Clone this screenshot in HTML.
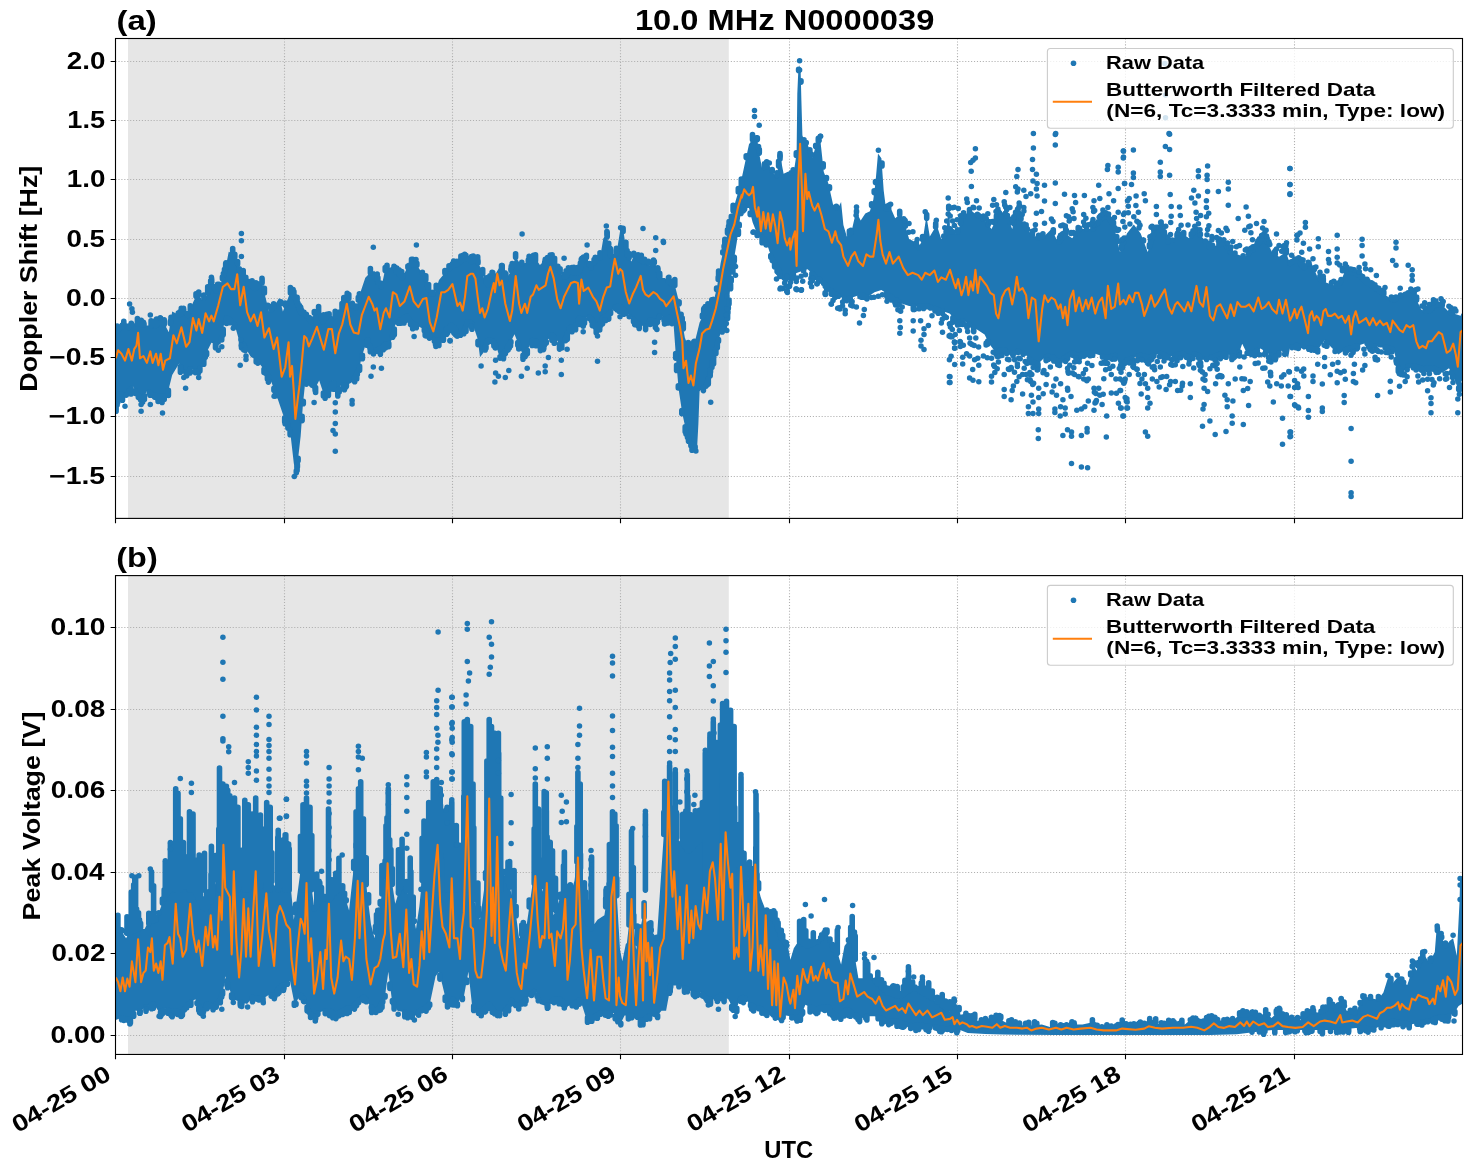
<!DOCTYPE html><html><head><meta charset="utf-8"><style>html,body{margin:0;padding:0;background:#fff;}svg{display:block;will-change:transform;}text{font-family:"Liberation Sans", sans-serif;font-weight:bold;fill:#000;-webkit-font-smoothing:antialiased;}</style></head><body><svg width="1472" height="1172" viewBox="0 0 1472 1172"><rect width="1472" height="1172" fill="#fff"/><defs><clipPath id="clipa"><rect x="115.5" y="38.5" width="1347.0" height="479.9"/></clipPath></defs><rect x="128" y="38.5" width="600.8" height="479.9" fill="#e6e6e6"/><path d="M284.5 38.5V518.4M452.5 38.5V518.4M620.5 38.5V518.4M789.5 38.5V518.4M957.5 38.5V518.4M1125.5 38.5V518.4M1294.5 38.5V518.4M115.5 61.5H1462.5M115.5 120.5H1462.5M115.5 179.5H1462.5M115.5 239.5H1462.5M115.5 298.5H1462.5M115.5 357.5H1462.5M115.5 416.5H1462.5M115.5 476.5H1462.5" stroke="#b0b0b0" stroke-width="1.1" stroke-dasharray="1.1 1.83" fill="none"/><g clip-path="url(#clipa)"><polygon points="115.8,332.3 123.8,325.4 128.4,327.7 133.0,323.1 140.0,324.3 146.9,325.4 156.1,325.4 160.7,322.0 165.3,325.4 168.8,332.3 172.2,311.6 179.1,315.0 183.8,311.6 188.4,316.2 193.0,302.4 197.6,293.1 202.2,300.1 206.8,295.4 211.4,281.6 216.0,290.8 220.6,283.9 225.2,270.1 228.7,251.7 233.3,254.0 236.8,260.9 239.1,270.1 243.7,274.7 248.3,283.9 255.2,288.5 262.1,282.8 264.4,293.1 269.0,311.6 273.6,307.0 279.4,297.8 282.9,311.6 290.0,293.1 291.5,292.7 296.1,300.8 300.7,312.3 305.4,314.6 311.1,321.5 314.6,312.3 319.2,312.3 322.6,321.5 328.4,314.6 334.2,316.9 339.9,314.6 344.5,300.8 348.0,296.2 351.4,305.4 356.1,307.7 360.7,291.6 365.3,277.8 369.9,273.1 374.5,270.8 378.0,282.4 381.4,287.0 384.9,270.8 388.3,268.5 392.9,266.2 397.5,273.1 402.2,277.8 406.8,268.5 411.4,265.1 416.0,263.9 420.6,270.8 425.2,277.8 429.8,293.9 434.4,293.9 439.0,280.1 444.8,273.1 451.7,266.2 457.5,263.9 460.0,261.6 460.4,261.6 465.0,258.2 470.7,261.6 476.5,260.5 481.1,268.5 484.6,280.1 488.0,284.7 491.5,275.4 496.1,273.1 500.7,265.1 505.3,280.1 509.9,273.1 515.7,257.0 520.3,263.9 526.1,262.8 531.8,259.3 537.6,261.6 542.2,268.5 546.8,263.9 551.4,259.3 556.0,263.9 560.6,273.1 565.2,277.8 569.8,270.8 574.5,273.1 579.1,273.1 582.5,260.5 587.1,257.0 590.6,268.5 596.4,259.3 599.8,259.3 603.3,238.6 606.7,234.0 611.3,259.3 615.9,257.0 620.0,231.5 623.5,231.5 626.9,254.5 631.5,261.4 635.0,252.2 638.4,259.1 643.0,261.4 646.5,259.1 650.0,266.0 654.6,262.6 658.0,270.6 660.0,278.1 665.0,278.1 669.9,283.0 674.9,285.5 678.6,300.3 682.3,322.6 684.8,337.5 688.5,347.4 692.2,349.8 695.9,337.5 699.6,322.6 704.6,312.7 709.5,307.8 713.2,302.8 716.9,288.0 720.6,263.2 724.4,245.9 728.1,231.0 731.8,216.2 735.5,201.3 739.2,189.0 741.7,184.0 741.8,177.8 745.4,161.1 749.0,144.3 752.6,139.6 757.3,139.6 759.7,156.3 762.1,168.2 769.3,165.8 776.5,177.8 780.0,154.7 783.6,173.8 788.4,171.4 793.8,172.1 796.6,153.6 797.3,93.7 798.2,73.0 799.6,64.9 800.7,73.0 801.4,100.6 802.4,135.2 804.2,141.0 807.7,144.4 812.3,158.2 816.9,142.1 820.3,139.8 823.8,172.1 828.4,183.6 833.0,204.3 837.6,208.9 841.1,202.0 843.4,225.1 846.8,236.6 851.4,232.0 856.1,211.2 860.7,220.5 865.3,213.6 869.9,211.2 873.3,199.7 875.6,181.3 878.0,153.6 881.4,158.2 883.7,190.5 886.0,208.9 890.6,207.8 895.2,218.2 901.0,213.6 904.5,222.8 909.1,238.9 913.7,241.2 918.3,248.1 922.9,238.9 926.4,215.9 929.8,236.6 936.7,225.1 941.3,238.9 945.9,234.3 949.4,202.0 950.0,231.3 956.9,233.6 963.8,215.2 970.7,210.6 977.7,215.2 984.6,219.8 991.5,229.0 998.4,215.2 1005.3,210.6 1012.2,229.0 1016.8,210.6 1023.8,224.4 1030.7,233.6 1037.6,238.2 1044.5,235.9 1051.4,229.0 1058.3,242.8 1065.2,233.6 1072.2,238.2 1079.1,229.0 1086.0,229.0 1092.9,229.0 1099.8,219.8 1106.7,215.2 1113.6,224.4 1120.0,252.1 1126.9,233.6 1133.8,224.4 1140.7,233.6 1147.7,252.1 1154.6,231.3 1161.5,229.0 1168.4,242.8 1175.3,238.2 1182.2,233.6 1189.1,238.2 1196.1,229.0 1203.0,238.2 1209.9,247.5 1216.8,245.2 1223.7,242.8 1230.6,252.1 1237.5,254.4 1244.5,256.7 1251.4,252.1 1258.3,242.8 1265.2,238.2 1272.1,252.1 1279.0,256.7 1285.9,252.1 1290.0,263.6 1296.9,259.0 1303.8,268.2 1310.7,261.3 1317.7,277.5 1324.6,282.1 1331.5,284.4 1338.4,286.7 1345.3,270.5 1352.2,272.8 1359.1,275.2 1366.1,282.1 1373.0,286.7 1379.9,291.3 1386.8,295.9 1393.7,300.5 1400.6,295.9 1407.5,293.6 1414.5,295.9 1421.4,309.7 1428.3,312.0 1435.2,305.1 1442.1,305.1 1449.0,312.0 1455.9,314.3 1463.3,316.6 1463.3,377.5 1458.2,389.0 1453.6,377.5 1449.0,368.3 1442.1,372.9 1435.2,368.3 1428.3,368.3 1421.4,368.3 1414.5,366.0 1407.5,366.0 1402.9,372.9 1398.3,368.3 1393.7,349.8 1386.8,347.5 1379.9,347.5 1373.0,345.2 1366.1,342.9 1359.1,345.2 1352.2,347.5 1345.3,349.8 1338.4,354.4 1331.5,347.5 1324.6,340.6 1317.7,349.8 1310.7,347.5 1303.8,349.8 1296.9,345.2 1290.0,347.5 1288.2,357.6 1281.3,350.7 1274.4,357.6 1267.5,353.0 1260.6,348.4 1253.7,353.0 1246.8,353.0 1242.2,343.8 1237.5,357.6 1230.6,355.3 1223.7,353.0 1216.8,355.3 1209.9,357.6 1203.0,359.9 1196.1,353.0 1189.1,357.6 1182.2,353.0 1175.3,355.3 1168.4,357.6 1161.5,353.0 1154.6,355.3 1147.7,357.6 1140.7,355.3 1133.8,357.6 1126.9,359.9 1120.0,366.8 1115.9,355.3 1106.7,357.6 1099.8,355.3 1092.9,353.0 1086.0,353.0 1079.1,355.3 1072.2,353.0 1065.2,357.6 1058.3,362.2 1051.4,355.3 1044.5,357.6 1037.6,364.5 1030.7,359.9 1023.8,353.0 1016.8,350.7 1009.9,355.3 1003.0,348.4 996.1,353.0 989.2,343.8 984.6,334.6 977.7,330.0 970.7,325.4 963.8,320.8 956.9,323.1 950.0,313.8 948.2,313.1 941.3,310.8 934.4,308.4 927.5,306.1 918.3,306.1 909.1,306.1 902.2,303.8 895.2,299.2 888.3,294.6 881.4,290.0 874.5,292.3 867.6,296.9 860.7,294.6 853.8,296.9 846.8,299.2 839.9,296.9 833.0,292.3 826.1,285.4 821.5,280.8 814.6,276.2 807.7,269.3 800.7,271.6 793.8,273.9 786.0,283.7 781.2,278.9 776.5,265.4 771.7,258.2 766.9,243.8 762.1,236.7 757.3,234.3 752.6,222.3 749.0,208.0 745.4,208.0 741.8,206.1 741.7,205.7 736.7,242.8 731.8,272.5 726.8,322.0 721.9,329.5 716.9,344.3 712.0,364.1 707.0,383.9 699.6,391.3 698.4,423.5 697.1,448.3 690.9,443.3 687.2,435.9 682.3,413.6 678.6,388.9 676.1,359.2 673.6,324.5 669.9,317.1 665.0,319.6 660.0,314.6 656.9,322.1 650.0,319.8 645.4,326.7 638.4,324.4 633.8,319.8 629.2,315.1 624.6,310.5 620.0,305.9 615.9,306.6 611.3,311.2 606.7,315.8 602.1,318.2 597.5,329.7 592.9,320.5 588.3,315.8 583.7,320.5 579.1,318.2 574.5,327.4 569.8,327.4 565.2,338.9 560.6,345.8 556.0,338.9 551.4,334.3 546.8,341.2 542.2,345.8 538.7,343.5 533.0,338.9 528.4,348.1 523.8,357.3 519.1,345.8 514.5,334.3 509.9,343.5 504.2,352.7 499.6,357.3 496.1,345.8 491.5,338.9 486.9,341.2 483.4,352.7 480.0,357.3 477.7,338.9 473.0,325.1 468.4,320.5 463.8,330.8 460.0,334.3 457.5,332.0 451.7,325.1 445.9,329.7 441.3,338.9 436.7,341.2 429.8,336.6 425.2,329.7 420.6,327.4 416.0,325.1 411.4,322.8 406.8,315.8 399.8,320.5 395.2,325.1 390.6,343.5 386.0,343.5 381.4,348.1 376.8,350.4 372.2,352.7 367.6,338.9 363.0,352.7 359.5,366.6 356.1,375.8 351.4,382.7 346.8,385.0 341.1,385.0 336.5,394.2 333.0,380.4 328.4,391.9 323.8,394.2 319.2,380.4 314.6,389.6 310.0,387.3 305.4,380.4 303.0,403.4 300.7,435.7 297.3,465.7 295.7,473.7 293.8,463.3 290.4,433.4 290.0,428.0 282.9,414.2 275.9,393.5 271.3,381.9 266.7,372.7 257.5,361.2 250.6,356.6 243.7,345.1 239.1,340.5 234.5,324.3 229.8,319.7 225.2,317.4 220.6,343.9 218.3,345.1 211.4,342.8 206.8,352.0 202.2,363.5 197.6,372.7 190.7,368.1 183.8,375.0 179.1,363.5 172.2,375.0 167.6,393.5 163.0,396.9 156.1,395.8 151.5,393.5 146.9,391.2 142.3,400.4 137.7,394.6 133.0,386.6 123.8,395.8 119.2,393.5 115.8,407.3" fill="#1f77b4"/><path d="M160.2 322.3V318.0M120.5 394.1V397.5M179.9 314.5V311.7M502.1 354.8V356.6M616.7 252.2V250.3M690.9 443.3V445.7M571.8 271.8V269.1M327.7 392.3V393.6M521.8 263.6V262.4M426.6 331.7V334.2M309.3 319.3V317.5M438.9 340.1V345.4M643.1 261.4V259.4M510.5 342.3V346.0M595.3 261.0V257.3M157.0 395.9V397.4M639.4 259.6V257.7M493.0 341.2V342.4M501.5 267.6V265.6M142.9 399.2V400.4M273.7 306.9V303.8M615.3 307.3V308.5M452.4 266.0V263.8M518.8 344.9V349.0M171.0 319.1V317.2M692.8 444.9V448.8M226.0 266.1V262.9M356.8 373.7V375.2M385.2 270.6V267.5M551.9 334.8V340.2M297.1 303.3V297.2M359.6 366.4V370.2M377.9 282.3V279.5M572.0 327.4V331.8M160.4 322.2V321.0M345.9 385.0V387.1M411.5 265.0V259.2M315.1 388.5V390.2M401.7 277.3V275.1M388.8 343.5V346.6M190.3 310.4V305.9M536.0 341.3V345.8M407.9 267.6V266.1M608.7 313.8V319.1M708.1 309.1V304.9M198.4 371.0V373.0M574.1 273.0V271.7M303.3 401.4V403.8M644.6 260.4V259.2M297.1 466.7V470.4M118.1 330.3V328.2M604.4 317.0V319.8M608.7 245.0V243.2M589.4 317.0V318.5M533.5 260.0V255.3M156.6 395.9V397.8M335.2 316.5V311.2M160.9 396.6V399.1M776.9 175.6V174.3M750.2 213.1V214.4M476.3 260.5V257.8M569.5 328.3V330.3M428.6 289.7V284.5M223.2 329.4V334.8M178.3 314.6V313.1M264.0 369.3V372.5M321.3 318.0V315.2M154.6 395.0V397.1M118.4 330.1V328.7M552.8 335.7V338.9M422.4 273.5V272.3M619.4 306.0V307.4M579.8 270.4V267.9M695.1 446.7V448.0M348.6 297.9V296.7M738.4 230.7V234.3M340.3 313.6V312.1M707.5 382.0V384.2M198.7 294.8V292.0M356.7 374.1V379.0M155.1 325.4V320.9M706.1 384.8V386.1M567.0 275.2V270.9M619.0 306.1V311.3M425.8 279.7V275.9M505.4 350.8V353.4M203.9 298.3V295.1M465.3 327.4V329.6M600.0 258.0V252.7M453.6 327.3V329.6M453.7 265.4V261.1M315.6 387.5V392.5M554.4 262.3V258.2M510.9 341.5V342.8M545.1 265.6V260.4M559.5 344.1V349.1M211.7 282.2V279.4M592.3 319.8V325.6M170.4 322.7V321.1M273.9 388.4V390.2M545.9 264.8V262.3M729.0 300.1V304.0M577.6 273.1V267.6M687.5 436.4V437.6M396.7 271.9V268.0M596.2 327.2V332.7M251.2 285.9V282.9M713.3 359.0V360.6M143.4 324.8V322.3M231.1 321.0V322.2M377.0 279.3V275.6M543.5 344.5V349.6M302.3 313.1V311.2M715.7 349.2V350.4M511.0 270.0V268.5M619.5 306.0V307.4M671.2 283.6V281.7M734.3 257.4V261.1M627.2 255.0V253.3M561.8 344.1V348.0M381.2 286.6V283.4M471.9 323.9V329.0M778.6 166.1V161.2M446.4 329.3V330.6M535.5 260.8V254.8M257.8 361.6V363.1M241.4 272.5V271.1M455.6 329.8V331.4M704.1 313.7V308.3M694.3 446.0V449.2M413.2 264.6V260.7M384.8 344.7V348.0M156.5 325.1V321.9M487.7 340.8V342.5M234.8 257.0V254.3M713.6 357.6V363.7M586.4 257.5V255.4M333.8 383.6V389.3M292.3 294.2V290.6M595.1 324.9V326.9M731.3 218.2V216.4M774.6 262.6V266.8M465.9 258.7V255.3M708.3 378.8V383.9M143.6 324.9V322.8M121.0 394.4V396.9M584.2 259.2V256.8M489.3 340.0V341.5M251.6 286.1V284.0M284.7 417.7V421.9M633.8 255.3V253.2M672.0 321.4V323.6M668.5 281.6V277.5M447.7 328.3V332.8M639.6 259.7V258.0M712.4 362.3V364.5M156.5 325.1V319.0M774.8 262.9V266.8M144.0 324.9V323.7M634.7 320.6V324.6M674.8 285.5V279.6M532.1 340.6V345.4M358.3 299.9V297.4M525.2 354.4V356.4M550.2 260.5V255.1M412.7 323.4V328.8M622.8 231.5V229.6M160.2 396.4V398.5M511.2 269.6V266.2M222.8 331.2V335.3M326.8 316.6V314.2M190.0 368.8V372.9M280.8 303.4V301.7M710.5 369.9V372.0M652.0 264.5V263.2M450.2 326.3V330.1M583.5 259.7V257.0M229.7 319.6V322.8M702.4 317.0V315.0M385.4 344.1V348.0M348.8 298.4V294.5M392.6 335.6V337.2M432.9 293.9V292.6M168.2 391.1V393.7M342.0 308.4V303.6M150.5 393.0V395.2M515.6 257.2V253.8M527.3 350.3V353.7M756.4 139.6V137.8M451.5 325.2V326.5M623.1 231.5V228.2M757.2 234.0V235.4M472.8 261.2V259.3M394.3 329.0V334.7M267.8 306.7V305.3M383.4 346.1V348.0M627.1 254.8V250.5M290.1 429.7V434.8M271.2 309.4V308.1M228.3 319.0V322.4M629.1 257.8V253.5M221.7 337.6V340.0M659.7 277.1V273.3M625.4 311.4V312.9M648.4 263.0V261.4M135.4 390.7V393.5M544.7 266.0V262.3M438.3 340.4V342.0M492.1 275.1V272.3M115.6 407.3V409.2M370.4 272.9V268.6M762.1 236.7V242.7M492.7 274.9V272.6M685.2 426.9V431.7M753.5 139.6V137.7M778.5 269.4V272.9M543.7 267.0V265.2M728.3 307.0V308.5M573.9 272.9V267.2M648.8 321.5V323.2M766.7 166.7V161.7M777.1 266.6V271.4M746.2 157.4V155.7M256.2 360.3V362.1M431.3 293.9V292.3M715.9 348.6V353.6M342.3 307.4V305.6M205.3 355.6V357.3M296.6 302.0V299.9M582.9 320.1V321.4M486.5 282.6V277.8M275.5 392.3V396.0M290.4 293.0V287.6M447.9 328.1V330.4M728.6 229.1V226.0M369.7 345.4V347.0M187.7 315.5V313.5M131.0 388.6V393.9M711.8 304.7V299.7M435.7 340.5V342.8M306.3 315.8V314.3M306.4 382.0V384.1M449.7 268.2V266.6M463.8 330.8V333.8M208.5 290.4V287.0M717.3 343.2V347.7M475.2 260.7V258.9M591.3 318.9V320.7M679.1 303.7V301.8M243.8 345.3V350.0M255.1 288.5V286.5M578.4 319.5V321.9M377.2 279.7V274.1M692.0 444.2V450.3M486.5 282.6V280.3M507.2 347.8V350.3M757.3 139.6V137.7M664.6 319.3V324.0M300.5 311.8V307.1M575.6 325.1V329.8M458.5 263.0V261.6M435.9 340.7V346.5M718.2 279.5V277.4M546.3 341.7V342.9M594.1 262.9V259.5M373.5 352.1V354.0M170.3 323.4V321.6M400.0 320.3V322.9M217.6 288.4V284.3M121.8 394.7V396.3M303.9 313.9V312.3M655.4 321.6V327.4M427.7 286.6V284.5M675.7 353.6V358.1M547.5 263.3V257.6M164.2 396.0V399.5M293.1 295.6V289.6M158.1 396.1V401.5M724.1 247.2V246.0M703.4 387.6V390.6M713.3 302.4V299.6M766.3 242.9V245.0M243.2 274.2V270.5M763.7 239.0V240.9M571.6 271.7V269.8M362.4 355.2V358.8M626.9 254.5V251.6M733.8 260.7V264.5M138.5 324.0V320.4M138.3 395.4V397.2M470.7 261.6V259.1M571.2 327.4V329.9M653.5 263.4V260.1M509.3 344.5V348.1M449.0 268.9V265.7M119.1 394.1V395.6M322.8 321.4V319.7M242.8 344.2V348.2M409.2 266.7V265.2M550.6 335.5V337.1M314.3 313.1V311.5M565.7 337.6V340.6M123.8 325.4V321.2M234.3 324.2V326.0M183.5 311.8V308.3M485.1 347.1V348.9M776.9 175.4V172.9M203.8 359.6V364.3M455.8 264.6V261.8M517.8 342.5V345.3M402.8 276.4V275.1M645.6 326.3V329.6M589.5 264.9V263.6M429.4 335.9V338.1M464.7 258.4V254.3M285.4 419.2V423.5M577.6 273.1V271.8M686.0 430.2V433.9M293.9 296.9V291.5M144.4 396.1V399.5M682.2 322.3V318.0M722.2 329.0V331.9M722.8 252.9V251.7M664.1 318.7V320.4M545.3 265.4V259.2M446.7 329.1V334.2M568.4 273.0V267.9M117.7 399.7V402.6M547.5 263.2V258.9M739.2 224.4V226.0M463.5 259.3V255.6M380.4 348.6V354.2M450.3 267.7V266.4M541.5 345.4V349.8M579.9 269.9V267.0M426.0 330.8V336.0M582.0 262.4V258.2M659.4 316.1V317.4M580.4 268.3V263.1M602.6 317.9V323.7M377.9 282.2V277.7M623.8 309.7V314.2M456.9 264.2V261.3M727.9 311.2V312.9M326.1 317.4V315.9M676.6 365.4V370.4M352.3 305.8V303.3M639.2 324.6V328.4M401.7 277.3V271.5M467.7 322.0V323.4M359.4 295.9V293.7M215.5 344.1V347.8M482.7 273.8V269.6M718.5 339.6V341.3M299.5 309.3V305.6M605.7 316.4V320.4M151.1 325.4V320.7M276.3 394.5V395.8M758.5 147.9V146.5M744.6 207.6V209.3M252.1 286.5V280.9M599.7 324.1V330.0M141.2 324.5V320.4M403.8 317.8V319.8M398.9 274.5V269.7M425.2 329.7V335.4M738.3 192.0V188.5M195.3 371.2V372.6M473.3 261.1V256.1M779.9 272.3V276.5M115.6 332.3V326.8M508.6 345.6V347.0M581.3 265.0V259.3M297.0 466.9V470.2M533.0 259.8V256.2M339.2 388.7V392.0M727.5 233.1V229.9M227.1 318.3V321.7M610.3 253.9V252.6M688.5 438.4V441.2M257.7 286.5V284.8M168.4 390.4V395.5M659.8 277.3V274.8M770.8 255.6V257.3M117.2 331.1V326.1M620.8 306.7V308.3M327.4 315.9V314.5M485.2 346.8V349.9M535.4 260.7V255.7M678.3 385.8V388.0M394.0 267.9V266.4M503.3 353.6V356.0M577.7 273.1V271.1M354.7 377.9V381.7M214.8 288.5V286.7M486.0 344.3V348.2M196.0 296.3V293.8M416.3 325.2V327.7M160.5 322.1V318.0M579.3 318.3V320.1M471.5 261.5V256.5M608.0 314.5V315.7M326.4 317.0V315.3M692.7 444.7V448.8M613.6 258.2V257.0M610.6 312.0V313.5M237.6 264.3V261.5M519.2 346.0V347.8M688.3 346.8V342.5M757.1 233.8V235.3M428.3 288.8V286.5M378.7 349.5V350.8M716.6 289.4V288.0M149.3 392.4V393.6M641.3 260.6V255.3M330.1 387.7V389.3M301.5 312.7V310.1M523.0 355.3V357.2M607.2 236.7V232.4M732.9 266.1V271.9M610.4 254.4V248.7M633.5 319.4V321.8M131.3 324.9V323.2M743.3 206.9V210.8M659.0 274.4V273.1M637.6 323.5V325.4M311.1 321.5V318.9M669.4 317.3V321.5M772.2 170.7V169.5M405.5 316.7V320.3M412.8 264.7V262.3M711.9 364.5V367.5M216.2 290.6V288.2M378.7 349.4V351.4M181.3 313.4V308.4M579.8 318.5V324.5M573.5 272.6V269.7M727.6 314.8V318.4M703.7 314.3V309.0M437.0 341.1V342.7M343.8 302.9V297.5M393.1 333.7V336.2M262.0 282.9V278.3M116.1 406.0V411.2M222.4 278.7V277.0M298.1 458.2V460.8M502.2 270.1V265.6M435.5 340.4V344.4M141.5 324.5V320.9M503.4 353.4V354.7M759.3 153.1V149.6M434.4 339.6V341.3M460.9 261.2V256.1M578.5 319.3V320.6M323.7 320.3V314.7M186.7 372.0V375.7M692.5 348.7V344.7M536.4 341.7V342.9M304.0 314.0V312.2M287.9 424.0V427.9M329.1 314.9V313.7M150.1 392.8V395.3M402.1 277.7V274.4M325.1 393.6V398.3M733.1 210.8V205.4M741.0 211.1V213.4M412.8 264.7V259.4M226.6 318.1V323.5M657.7 269.8V267.7M117.1 401.9V405.0M245.8 278.9V277.3M369.9 345.8V348.3M610.0 252.3V248.2M650.2 319.8V324.5M381.2 286.7V284.5M367.9 339.8V342.9M436.2 288.7V285.3M724.3 325.8V328.1M488.1 284.4V282.7M493.9 342.5V345.9M564.6 277.1V274.4M206.6 352.5V354.8M297.8 305.1V303.5M730.6 284.6V288.7M741.3 184.8V179.0M296.3 470.7V472.7M444.9 273.0V270.5M394.0 330.0V331.3M729.1 226.8V221.6M502.8 354.1V356.4M512.2 266.8V263.6M366.9 341.0V345.3M285.3 305.3V303.0M666.0 319.0V323.3M248.1 283.6V281.4M460.5 333.8V335.3M606.9 235.1V231.5M357.3 372.3V374.5M239.3 270.3V268.7M495.4 344.8V348.0M674.3 285.2V280.4M600.5 322.3V325.7M271.7 308.9V306.2M710.2 371.2V375.8M610.6 255.4V250.0M671.5 320.4V322.2M718.6 277.0V271.0M508.0 346.6V350.0M668.9 282.0V277.2M712.9 360.6V363.4M693.8 344.4V341.7M410.6 321.6V324.6M512.2 266.7V265.5M267.4 374.0V379.1M137.4 323.8V318.5M731.2 278.5V281.3M705.3 312.0V306.5M370.3 347.1V351.7M252.8 287.0V284.5M230.3 320.2V322.2M764.4 167.5V163.7M331.7 383.7V385.1M683.3 328.8V323.1M772.3 259.1V260.4M641.8 260.8V258.7M245.2 347.7V350.6M318.6 312.3V306.6M215.9 344.2V346.5M225.7 267.7V263.5M442.9 335.8V338.7M713.1 303.0V299.5M455.3 329.4V334.6M505.9 279.1V273.7M543.8 344.2V348.5M466.5 259.1V257.7M503.5 353.3V358.7M616.4 254.3V248.4M285.1 418.5V423.7M225.6 267.9V266.7M140.5 398.1V399.8M264.4 293.0V288.3M453.8 327.5V332.8M355.8 307.6V306.1M306.4 382.0V383.6M625.9 248.0V242.3M478.0 341.3V344.6M489.9 279.8V275.7M668.1 318.0V322.9M411.5 265.0V262.1M424.3 329.2V330.8M164.2 324.6V319.7M408.5 318.4V320.0M141.9 324.6V323.4M401.0 319.7V323.1M724.8 243.9V239.4M383.3 346.3V349.7M128.5 327.6V326.1M407.0 316.2V319.6M566.1 276.5V270.9M354.3 378.3V380.8M208.7 289.9V287.9M241.5 342.8V347.8M529.1 260.9V256.2M158.1 396.1V399.0M549.4 261.3V259.6M470.2 322.2V323.4M545.3 265.4V261.9M543.7 344.3V345.5M478.0 263.0V260.7M268.4 376.0V382.1M463.1 259.5V255.4M443.4 334.8V340.2M224.5 272.2V269.3M581.4 319.3V320.9M210.7 283.6V280.7M472.0 324.0V329.3M542.4 268.3V266.5M333.6 382.7V387.7M223.4 275.5V273.5M328.4 391.9V395.4M591.1 267.7V266.2M404.0 317.7V322.9M552.1 260.0V254.8M681.8 410.5V413.6M298.0 305.4V303.3M466.0 326.0V331.5M300.8 312.3V307.7M286.5 421.3V423.0M151.1 325.4V323.0M653.0 320.7V323.3M528.3 261.4V260.1M323.4 393.0V396.1M124.0 325.5V323.6M657.4 320.9V322.2M638.1 258.5V254.7M268.1 375.4V377.0M560.1 272.0V268.7M344.4 385.0V389.8M477.7 262.5V256.8M343.7 385.0V387.7M668.6 281.7V279.7M623.2 309.2V313.8M551.6 259.5V256.0M693.1 445.1V446.6M752.5 139.7V134.5M346.4 385.0V386.2M780.0 159.0V153.6M540.4 344.6V350.6M218.9 286.5V284.4M377.7 350.0V351.5M232.7 253.7V248.5M455.0 329.1V331.6M387.0 269.4V265.3M582.1 319.7V322.1M183.7 311.6V309.5M315.1 388.4V390.0M504.9 278.7V272.9M500.0 356.9V358.1M207.7 292.7V286.9M765.0 241.0V243.3M416.9 265.3V263.4M567.3 333.6V339.2M504.5 277.5V273.3M122.5 395.1V400.3M482.1 272.0V270.7M337.8 391.5V395.9M251.7 286.2V281.4M523.0 355.4V359.2M707.9 309.4V303.9M325.0 393.6V395.1M577.5 273.1V268.7M297.4 464.4V467.0M681.1 315.7V314.2M180.4 366.6V372.3M122.3 326.8V325.1M128.9 390.7V393.4M577.4 273.1V271.4M199.9 368.1V371.0M257.1 286.9V283.6M399.8 320.5V322.3M658.0 270.6V268.7M486.8 341.6V342.8M694.3 342.8V341.2M554.2 337.1V343.2M262.1 282.8V278.7M162.1 396.8V402.4M554.6 262.5V258.3M142.7 399.5V401.9M510.9 270.3V268.5M616.9 306.5V309.8M255.9 288.0V282.7M544.3 343.7V345.6M347.2 297.3V293.4M540.6 344.7V347.4M557.9 267.7V266.4M267.3 374.0V375.3M571.8 271.8V267.6M584.5 319.6V323.3M338.6 315.2V312.2M398.5 321.8V323.3M654.3 262.8V261.3M302.1 416.2V420.6M689.4 348.0V346.6M625.7 311.6V313.4M1411.4 294.9V294.6M1463.7 377.5V378.2M963.6 215.7V212.8M1018.1 351.1V351.6M996.4 219.3V215.9M1165.6 355.7V357.1M1172.2 240.3V240.0M1174.7 355.5V357.8M791.7 173.0V172.5M1421.0 368.1V369.6M969.5 211.4V209.5M1058.1 362.1V362.3M1438.8 305.1V304.2M1106.3 357.5V358.5M1340.1 282.6V281.7M1018.0 351.1V352.4M1452.3 313.1V309.9M826.7 286.0V289.3M1196.5 229.6V229.2M1013.1 353.2V355.4M1425.9 311.2V308.6M1023.1 352.8V354.2M1314.3 269.6V267.8M1154.0 355.5V355.8M905.0 224.7V224.3M942.3 311.1V313.3M1162.8 231.7V230.3M1168.0 357.4V357.8M903.7 220.8V218.9M1451.2 372.5V373.0M1152.0 239.0V238.5M831.2 290.5V294.1M1319.9 279.0V276.2M1234.5 356.6V356.9M1032.4 234.8V231.2M1115.1 355.5V357.8M1442.3 305.3V303.0M913.3 306.1V309.4M1292.6 261.9V261.3M818.4 278.7V279.6M1079.7 229.0V228.4M1048.6 356.3V357.6M935.7 226.7V223.6M1226.1 353.8V357.3M1211.0 247.1V246.6M835.9 294.2V295.0M1164.3 234.7V231.7M1345.5 349.7V353.0M1308.2 263.9V262.4M1034.0 362.2V362.6M796.3 155.5V152.9M1206.6 358.7V359.4M871.8 204.9V204.7M1102.5 356.2V356.9M1372.0 286.0V285.7M1121.6 365.3V366.6M1243.1 256.2V255.7M1190.6 356.7V357.3M1061.8 238.2V237.6M1349.9 348.3V349.8M801.0 82.1V80.8M1367.1 343.2V343.6M1362.6 278.6V276.5M1298.3 346.1V348.5M811.3 155.2V154.1M1357.5 345.7V348.0M1304.2 267.8V265.9M1048.8 356.2V359.1M882.0 165.9V163.0M1354.4 346.8V348.2M1193.0 233.1V230.8M803.6 270.6V271.0M1336.5 286.0V285.3M1067.4 356.2V358.8M1255.7 246.2V246.0M1060.1 361.1V361.6M1094.0 227.5V226.5M1038.0 364.1V366.7M1113.5 224.2V222.3M930.4 307.1V307.9M1107.6 216.4V214.5M1079.9 355.0V357.6M1037.9 238.1V237.5M996.1 353.0V354.3M1367.8 283.2V280.8M938.2 309.7V313.2M1394.5 300.0V298.0M1140.9 355.4V358.4M1248.5 253.9V252.1M819.6 279.5V281.1M1364.3 280.3V279.1M1430.2 368.3V369.3M1078.2 230.2V227.5M1085.5 353.2V353.7M1212.2 246.7V246.4M862.8 295.3V297.2M1153.6 234.3V234.0M1070.4 354.2V354.4M1371.4 285.6V282.7M845.9 298.9V299.8M957.6 231.7V229.7M1138.5 356.1V357.7M1376.0 288.7V287.0M1179.2 354.0V356.4M948.7 208.8V206.4M1421.4 368.3V370.1M1410.3 294.5V293.7M1004.9 350.3V352.1M829.5 188.4V186.9M860.0 294.9V296.6M1434.2 306.1V305.9M1019.3 351.5V351.7M1024.2 225.0V224.1M793.4 274.2V274.6M1212.5 246.6V245.2M1257.3 350.6V351.6M1274.7 253.8V251.8M1315.3 349.0V349.8M1123.6 242.5V242.3M1006.7 352.1V353.6M1352.6 273.0V269.6M1292.0 346.8V347.6M1063.6 235.8V233.3M1398.3 368.1V371.5M1042.8 236.5V235.6M1296.6 345.3V346.8M1361.1 277.1V275.9M892.1 297.1V298.2M1163.0 232.1V229.8M1046.1 357.1V360.6M888.7 208.3V207.2M927.3 306.1V306.6M1374.9 288.0V284.7M1438.4 370.4V372.1M819.1 140.6V140.4M953.3 318.2V321.7M1015.6 215.6V212.2M1048.2 356.4V356.6M1323.3 281.2V278.8M1186.3 355.7V357.3M1266.3 240.4V239.9M1023.5 352.9V354.0M874.2 192.6V190.7M1165.2 355.5V355.9M1379.6 291.1V290.8M1046.0 357.1V357.6M1308.9 263.1V262.6M835.2 293.7V296.5M1038.7 237.9V235.4M1275.3 356.7V359.7M1026.1 227.5V224.8M1144.0 356.4V359.2M978.5 215.8V215.4M1224.2 353.2V356.5M999.4 214.5V212.8M1184.1 354.3V354.6M1210.3 247.3V244.7M999.8 350.5V350.7M1021.0 218.9V217.8M1199.5 356.4V356.9M823.2 166.9V163.8M1166.4 356.3V357.5M1320.5 279.4V279.1M1255.1 352.1V355.0M1058.9 242.0V241.0M1417.3 366.9V367.3M1222.6 243.2V241.8M1130.3 358.8V360.8M1183.7 234.6V232.5M960.0 322.0V324.5M1092.9 229.0V228.4M899.1 301.8V304.3M1416.6 300.1V297.1M1326.6 342.6V346.1M1451.4 312.8V311.2M1284.7 354.0V354.3M811.1 154.6V154.3M1215.3 355.8V359.3M1112.4 222.8V219.6M923.6 306.1V308.4M1224.3 243.6V243.2M1000.6 350.0V352.3M1149.4 247.0V244.7M1132.0 358.2V361.1M1191.3 235.4V233.7M1356.7 346.0V349.0M1230.2 251.4V247.8M1223.8 353.1V356.1M1150.6 243.1V240.4M1033.6 361.9V363.0M1253.0 249.9V246.7M1368.6 343.7V346.8M1229.9 251.1V247.8M1464.8 377.5V377.9M982.9 218.7V217.9M1112.1 356.3V359.1M1391.4 299.0V297.0M832.9 292.2V293.3M1259.6 242.0V238.9M888.3 294.6V297.6M1336.1 285.9V283.2M1231.9 355.7V359.4M1290.2 263.5V262.3M1458.7 387.9V389.4M1450.9 312.7V311.0M1317.7 349.8V352.0M806.2 142.9V142.6M1392.7 349.5V349.7M1086.6 229.0V227.4M1374.7 345.8V346.3M1017.6 212.2V209.2M1084.0 353.7V356.1M886.2 208.9V206.6M1122.5 364.3V367.8M1079.1 229.0V228.0M999.7 350.6V351.1M1218.9 244.4V244.0M1005.3 350.7V352.2M1370.7 285.2V284.6M896.2 299.9V303.2M1275.3 254.2V253.2M844.6 298.5V299.3M918.7 247.4V247.1M1012.7 353.4V354.5M1286.3 253.0V249.5M969.2 324.3V324.9M935.6 227.0V226.5M1279.0 353.0V354.7M905.4 225.9V224.8M1056.5 360.4V361.8M1302.2 266.1V263.2M1346.9 349.3V350.7M1298.7 261.3V257.7M1434.4 368.3V369.8M1366.5 282.4V282.0M1124.6 362.3V363.6M1102.6 218.0V216.2M1426.3 368.3V369.1M1065.7 234.0V231.1M1140.9 355.4V357.0M1405.2 294.4V294.2M1090.1 353.0V355.7M1143.5 241.0V240.1M861.8 295.0V297.2M1205.3 241.3V241.0M790.7 276.6V278.1M1167.8 241.7V239.2M1198.8 355.8V356.0M1266.9 241.7V240.8M1271.1 355.4V357.5M1337.2 286.3V285.6M1086.3 353.0V354.2M1104.0 217.0V216.1M835.2 293.8V294.3M1075.1 234.3V233.7M1175.5 355.3V356.2M1226.8 247.0V246.5M1182.4 353.2V354.9M1429.8 310.5V308.0M1387.0 347.6V349.1M1164.7 235.5V235.3M1127.0 359.9V361.2M836.3 207.6V206.4M1121.1 365.7V367.1M1468.7 316.6V316.4M1150.5 356.7V357.5M1018.5 214.0V212.8M1401.4 371.4V374.4M903.7 220.8V220.0M1198.7 355.6V357.9M1200.4 234.8V234.1M1251.5 353.0V354.4M1105.1 216.3V213.0M973.7 327.3V330.3M1258.1 243.1V240.9M1029.3 358.6V359.4M1259.8 241.8V240.1M838.3 295.8V296.2M1264.2 238.9V238.7M1120.7 366.1V366.4M1257.1 244.4V243.7M1211.6 357.1V358.0M1349.6 272.0V271.8M1452.6 375.3V377.6M793.7 172.1V171.8M1115.1 355.5V358.7M1027.4 229.3V229.1M1335.1 351.1V351.5M950.2 231.4V228.8M1189.4 357.5V360.6M1345.2 270.8V270.6M1216.3 355.5V358.1M1177.0 237.1V234.5M1265.6 351.7V353.3M1378.8 290.6V288.4M962.1 321.3V323.0M1395.9 299.1V297.0M1390.1 348.6V348.9M946.1 232.6V231.7M1194.7 353.9V354.4M850.9 232.5V230.2M1108.2 357.2V357.7M1450.4 312.5V312.3M1256.6 351.1V354.3M1294.8 260.5V259.1M952.9 317.7V319.7M899.7 214.6V211.2M1153.2 355.8V356.8M1100.5 219.3V215.8M866.9 296.7V299.0M887.3 208.6V208.0M957.6 322.8V324.9M1219.2 244.4V243.6M1145.5 356.9V359.7M826.5 178.8V177.6M1031.1 360.2V362.8M1372.8 286.5V283.7M1053.8 357.7V360.9M1304.5 267.5V266.0M1407.9 366.0V366.2M1019.6 216.2V213.7M1239.2 352.5V356.0M1383.8 293.9V291.9M1081.2 354.6V355.8M1432.1 308.2V307.5M960.5 321.9V322.1M849.4 234.0V231.1M1000.5 350.1V351.1M1435.3 305.1V304.5M1387.8 347.9V348.8M1367.0 282.7V279.2M1151.7 356.3V359.5M1007.3 215.9V215.2M1311.3 347.7V350.1M1425.5 311.1V309.8M1413.6 366.0V366.2M1440.7 305.1V304.6M1254.8 352.3V355.6M1381.5 292.3V290.6M1308.8 348.2V349.3M1235.0 253.5V253.1M886.9 293.7V296.4M1158.0 230.2V227.4M835.7 294.1V294.5M1285.8 252.2V250.7M886.7 293.5V295.8M1160.8 229.3V228.6M959.1 322.3V324.3M1463.5 316.6V315.7M941.6 310.8V312.8M1257.8 243.6V241.4M1078.3 355.1V357.9M983.4 219.0V216.1M1416.1 366.5V370.0M1151.1 241.6V241.1M1247.1 353.0V353.2M1297.3 259.5V258.8M1385.2 347.5V347.7M1426.2 311.3V310.2M1004.4 349.8V351.6M1464.8 316.6V313.6M1087.2 353.0V354.4M871.6 205.6V203.8M920.5 306.1V306.4M1108.4 217.4V217.2M1035.8 363.3V364.9M1349.3 271.9V271.0M1250.4 353.0V353.8M1013.9 222.3V221.5M1081.8 354.4V354.7M1154.0 233.0V229.9M1073.1 353.3V355.2M1164.5 235.0V233.4M824.5 283.8V284.0M988.2 224.7V221.6M811.9 273.5V275.2M887.1 208.7V208.5M890.4 296.0V298.2M809.9 151.2V149.9M1295.9 345.5V347.6M1062.7 237.0V233.8M1164.4 354.9V355.5M922.6 239.4V236.6M942.2 311.0V311.9M1297.9 260.3V258.6M1052.8 356.7V357.2M815.7 146.4V145.2M1220.5 354.1V356.7M856.5 212.1V211.1M891.7 296.9V299.9M1064.5 234.7V233.2M1298.3 346.1V348.0M793.2 172.3V169.7M825.2 284.5V286.3M1152.2 238.5V235.6M1370.7 344.5V346.5M1098.0 222.2V221.9M987.8 341.0V343.9M1042.9 236.5V233.8M1064.0 358.4V359.0M1122.0 246.7V243.4M1396.1 359.5V361.2M926.7 218.2V214.5M1057.4 361.4V362.3M977.4 215.0V214.4M814.7 276.3V277.3M1060.0 240.6V237.5M1275.8 356.3V357.9M1440.7 305.1V304.6M1145.7 357.0V360.5M804.0 140.3V139.9M891.3 296.6V297.1M1121.5 248.2V246.3M1460.1 384.8V385.8M1434.8 305.5V305.0M850.2 298.1V300.1M1357.6 274.6V272.7M1013.1 353.2V354.7M1408.1 293.8V292.9M1413.3 366.0V367.8M952.3 232.1V231.6M1200.1 357.1V359.1M1180.0 235.1V234.5M1074.4 353.8V356.0M1096.9 223.6V223.4M1239.4 352.0V352.5M1400.6 295.9V295.0M1149.4 357.0V359.6M1178.5 236.1V235.7M1142.4 355.9V359.5M1110.5 220.2V219.9M1396.5 361.1V363.1M1009.8 222.5V219.1M935.0 308.6V310.9M994.6 222.8V222.2M936.3 309.1V310.8M1300.6 263.9V263.1M1418.1 367.1V368.8M1114.9 229.9V227.9M1160.4 353.4V355.9M1414.1 295.8V292.8M812.8 274.4V277.0M916.3 245.1V242.8M823.7 283.0V283.5M1038.7 237.9V237.4M1233.4 356.2V358.1M1209.1 246.4V243.0M833.3 292.5V294.1M875.5 182.4V181.6M1067.6 356.0V358.6M1285.7 252.2V250.7M1316.6 349.5V350.6M1013.6 223.6V222.3M1392.0 349.2V351.7M1116.7 237.6V236.5M1077.8 354.9V355.7M1143.2 240.3V240.1M1427.9 368.3V368.8M960.7 223.4V220.4M846.8 299.2V300.6M943.8 236.4V236.0M924.5 306.1V306.6M1053.3 232.8V229.8M1428.7 368.3V370.3M996.3 219.5V218.6M962.7 321.1V322.1M1341.1 280.4V279.5M1314.7 348.8V350.3M798.6 70.4V69.2M1092.7 353.0V355.2M957.6 231.7V230.9M919.1 306.1V308.7M818.3 141.2V138.4M1163.7 354.5V356.6" stroke="#1f77b4" stroke-width="5.6" stroke-linecap="round" fill="none"/><g fill="#1f77b4"><circle cx="129.6" cy="304.1" r="2.75"/><circle cx="131.9" cy="308.7" r="2.75"/><circle cx="132.4" cy="312.2" r="2.75"/><circle cx="150.3" cy="315.0" r="2.75"/><circle cx="160.2" cy="318.0" r="2.75"/><circle cx="211.4" cy="277.2" r="2.75"/><circle cx="211.4" cy="282.2" r="2.75"/><circle cx="241.4" cy="233.4" r="2.75"/><circle cx="241.4" cy="240.7" r="2.75"/><circle cx="241.4" cy="256.4" r="2.75"/><circle cx="233.3" cy="328.3" r="2.75"/><circle cx="218.3" cy="350.2" r="2.75"/><circle cx="221.8" cy="346.8" r="2.75"/><circle cx="240.2" cy="365.2" r="2.75"/><circle cx="246.0" cy="356.0" r="2.75"/><circle cx="246.0" cy="359.4" r="2.75"/><circle cx="185.6" cy="388.2" r="2.75"/><circle cx="198.7" cy="377.4" r="2.75"/><circle cx="183.8" cy="377.4" r="2.75"/><circle cx="141.1" cy="404.4" r="2.75"/><circle cx="141.1" cy="411.3" r="2.75"/><circle cx="150.3" cy="404.4" r="2.75"/><circle cx="162.5" cy="413.1" r="2.75"/><circle cx="126.1" cy="395.2" r="2.75"/><circle cx="125.0" cy="406.2" r="2.75"/><circle cx="265.6" cy="373.3" r="2.75"/><circle cx="274.1" cy="396.3" r="2.75"/><circle cx="240.9" cy="339.8" r="2.75"/><circle cx="241.4" cy="345.6" r="2.75"/><circle cx="373.3" cy="247.2" r="2.75"/><circle cx="416.4" cy="244.9" r="2.75"/><circle cx="416.0" cy="259.5" r="2.75"/><circle cx="314.1" cy="402.4" r="2.75"/><circle cx="335.3" cy="402.8" r="2.75"/><circle cx="335.3" cy="412.0" r="2.75"/><circle cx="335.3" cy="423.6" r="2.75"/><circle cx="333.0" cy="430.5" r="2.75"/><circle cx="335.3" cy="433.9" r="2.75"/><circle cx="335.3" cy="451.2" r="2.75"/><circle cx="352.1" cy="400.5" r="2.75"/><circle cx="352.1" cy="404.0" r="2.75"/><circle cx="371.0" cy="376.3" r="2.75"/><circle cx="373.3" cy="367.1" r="2.75"/><circle cx="381.4" cy="368.2" r="2.75"/><circle cx="414.1" cy="336.4" r="2.75"/><circle cx="450.1" cy="341.0" r="2.75"/><circle cx="457.0" cy="336.0" r="2.75"/><circle cx="294.3" cy="476.6" r="2.75"/><circle cx="522.1" cy="234.1" r="2.75"/><circle cx="606.3" cy="226.0" r="2.75"/><circle cx="620.6" cy="227.7" r="2.75"/><circle cx="587.1" cy="244.9" r="2.75"/><circle cx="564.1" cy="258.3" r="2.75"/><circle cx="450.0" cy="340.6" r="2.75"/><circle cx="457.4" cy="336.0" r="2.75"/><circle cx="470.7" cy="326.3" r="2.75"/><circle cx="481.1" cy="365.9" r="2.75"/><circle cx="495.6" cy="360.2" r="2.75"/><circle cx="495.6" cy="372.9" r="2.75"/><circle cx="498.4" cy="376.3" r="2.75"/><circle cx="494.9" cy="382.1" r="2.75"/><circle cx="505.3" cy="377.5" r="2.75"/><circle cx="508.8" cy="370.6" r="2.75"/><circle cx="521.4" cy="376.3" r="2.75"/><circle cx="527.2" cy="368.2" r="2.75"/><circle cx="538.3" cy="372.9" r="2.75"/><circle cx="545.2" cy="371.7" r="2.75"/><circle cx="545.2" cy="365.9" r="2.75"/><circle cx="548.4" cy="357.4" r="2.75"/><circle cx="561.3" cy="360.2" r="2.75"/><circle cx="561.3" cy="374.5" r="2.75"/><circle cx="567.1" cy="349.3" r="2.75"/><circle cx="583.2" cy="331.8" r="2.75"/><circle cx="583.2" cy="326.3" r="2.75"/><circle cx="597.5" cy="361.3" r="2.75"/><circle cx="597.5" cy="336.0" r="2.75"/><circle cx="604.9" cy="319.8" r="2.75"/><circle cx="643.0" cy="228.6" r="2.75"/><circle cx="655.7" cy="237.8" r="2.75"/><circle cx="663.3" cy="241.3" r="2.75"/><circle cx="655.7" cy="250.5" r="2.75"/><circle cx="654.6" cy="342.2" r="2.75"/><circle cx="654.6" cy="352.6" r="2.75"/><circle cx="656.9" cy="329.5" r="2.75"/><circle cx="620.0" cy="316.8" r="2.75"/><circle cx="629.2" cy="316.8" r="2.75"/><circle cx="663.5" cy="242.4" r="2.75"/><circle cx="710.7" cy="402.3" r="2.75"/><circle cx="695.9" cy="451.0" r="2.75"/><circle cx="726.8" cy="296.3" r="2.75"/><circle cx="726.8" cy="308.7" r="2.75"/><circle cx="726.3" cy="314.9" r="2.75"/><circle cx="726.3" cy="323.6" r="2.75"/><circle cx="726.8" cy="330.5" r="2.75"/><circle cx="735.5" cy="275.3" r="2.75"/><circle cx="735.5" cy="266.6" r="2.75"/><circle cx="753.6" cy="232.0" r="2.75"/><circle cx="754.5" cy="110.5" r="2.75"/><circle cx="754.5" cy="116.5" r="2.75"/><circle cx="759.2" cy="125.3" r="2.75"/><circle cx="759.2" cy="151.1" r="2.75"/><circle cx="753.0" cy="232.3" r="2.75"/><circle cx="780.0" cy="155.9" r="2.75"/><circle cx="769.3" cy="163.0" r="2.75"/><circle cx="776.5" cy="278.9" r="2.75"/><circle cx="782.4" cy="288.5" r="2.75"/><circle cx="787.2" cy="290.9" r="2.75"/><circle cx="789.6" cy="286.1" r="2.75"/><circle cx="796.8" cy="289.7" r="2.75"/><circle cx="801.5" cy="289.7" r="2.75"/><circle cx="802.7" cy="281.3" r="2.75"/><circle cx="811.1" cy="278.9" r="2.75"/><circle cx="817.1" cy="283.7" r="2.75"/><circle cx="825.4" cy="294.4" r="2.75"/><circle cx="831.4" cy="304.0" r="2.75"/><circle cx="820.6" cy="136.3" r="2.75"/><circle cx="799.6" cy="60.7" r="2.75"/><circle cx="799.6" cy="70.0" r="2.75"/><circle cx="820.3" cy="136.3" r="2.75"/><circle cx="856.5" cy="207.1" r="2.75"/><circle cx="878.4" cy="150.2" r="2.75"/><circle cx="890.6" cy="204.3" r="2.75"/><circle cx="925.2" cy="211.7" r="2.75"/><circle cx="936.3" cy="220.2" r="2.75"/><circle cx="948.2" cy="197.9" r="2.75"/><circle cx="948.2" cy="214.0" r="2.75"/><circle cx="944.8" cy="227.8" r="2.75"/><circle cx="856.1" cy="215.2" r="2.75"/><circle cx="780.0" cy="288.9" r="2.75"/><circle cx="786.9" cy="276.2" r="2.75"/><circle cx="789.2" cy="286.6" r="2.75"/><circle cx="796.1" cy="288.9" r="2.75"/><circle cx="801.2" cy="290.1" r="2.75"/><circle cx="787.4" cy="292.4" r="2.75"/><circle cx="782.3" cy="288.4" r="2.75"/><circle cx="786.9" cy="291.2" r="2.75"/><circle cx="789.2" cy="286.1" r="2.75"/><circle cx="796.1" cy="289.1" r="2.75"/><circle cx="801.2" cy="290.2" r="2.75"/><circle cx="811.1" cy="278.0" r="2.75"/><circle cx="816.9" cy="283.8" r="2.75"/><circle cx="825.4" cy="294.2" r="2.75"/><circle cx="831.2" cy="304.1" r="2.75"/><circle cx="833.0" cy="300.4" r="2.75"/><circle cx="839.9" cy="309.1" r="2.75"/><circle cx="845.2" cy="313.8" r="2.75"/><circle cx="845.2" cy="310.3" r="2.75"/><circle cx="859.5" cy="323.0" r="2.75"/><circle cx="863.4" cy="315.4" r="2.75"/><circle cx="899.8" cy="320.7" r="2.75"/><circle cx="900.3" cy="327.6" r="2.75"/><circle cx="899.8" cy="333.3" r="2.75"/><circle cx="913.2" cy="320.7" r="2.75"/><circle cx="913.2" cy="331.0" r="2.75"/><circle cx="920.6" cy="320.7" r="2.75"/><circle cx="924.0" cy="328.7" r="2.75"/><circle cx="924.0" cy="334.5" r="2.75"/><circle cx="921.0" cy="340.3" r="2.75"/><circle cx="921.0" cy="346.0" r="2.75"/><circle cx="924.0" cy="349.5" r="2.75"/><circle cx="941.3" cy="323.0" r="2.75"/><circle cx="942.5" cy="332.2" r="2.75"/><circle cx="949.4" cy="324.1" r="2.75"/><circle cx="950.6" cy="336.8" r="2.75"/><circle cx="949.4" cy="359.8" r="2.75"/><circle cx="949.4" cy="376.4" r="2.75"/><circle cx="949.4" cy="382.4" r="2.75"/><circle cx="955.2" cy="334.5" r="2.75"/><circle cx="954.7" cy="342.6" r="2.75"/><circle cx="954.7" cy="348.3" r="2.75"/><circle cx="960.0" cy="341.4" r="2.75"/><circle cx="975.4" cy="148.8" r="2.75"/><circle cx="975.4" cy="158.0" r="2.75"/><circle cx="973.0" cy="160.3" r="2.75"/><circle cx="970.7" cy="162.6" r="2.75"/><circle cx="971.2" cy="171.2" r="2.75"/><circle cx="971.4" cy="186.4" r="2.75"/><circle cx="967.3" cy="202.5" r="2.75"/><circle cx="976.5" cy="200.7" r="2.75"/><circle cx="993.8" cy="199.5" r="2.75"/><circle cx="992.6" cy="205.3" r="2.75"/><circle cx="1004.2" cy="201.8" r="2.75"/><circle cx="1009.9" cy="207.6" r="2.75"/><circle cx="1018.0" cy="169.6" r="2.75"/><circle cx="1016.8" cy="176.5" r="2.75"/><circle cx="1015.7" cy="186.8" r="2.75"/><circle cx="1018.0" cy="189.1" r="2.75"/><circle cx="1023.8" cy="190.3" r="2.75"/><circle cx="1033.4" cy="133.4" r="2.75"/><circle cx="1033.4" cy="148.1" r="2.75"/><circle cx="1032.5" cy="159.6" r="2.75"/><circle cx="1032.5" cy="169.6" r="2.75"/><circle cx="1036.4" cy="174.2" r="2.75"/><circle cx="1033.0" cy="181.1" r="2.75"/><circle cx="1037.1" cy="183.4" r="2.75"/><circle cx="1030.7" cy="193.8" r="2.75"/><circle cx="1036.4" cy="189.1" r="2.75"/><circle cx="1037.1" cy="196.1" r="2.75"/><circle cx="1044.5" cy="185.2" r="2.75"/><circle cx="1044.5" cy="201.1" r="2.75"/><circle cx="1055.3" cy="134.5" r="2.75"/><circle cx="1055.3" cy="144.9" r="2.75"/><circle cx="1055.3" cy="182.9" r="2.75"/><circle cx="1055.3" cy="203.4" r="2.75"/><circle cx="1036.4" cy="213.3" r="2.75"/><circle cx="1044.5" cy="223.3" r="2.75"/><circle cx="1053.0" cy="221.4" r="2.75"/><circle cx="1064.5" cy="194.2" r="2.75"/><circle cx="1074.5" cy="195.4" r="2.75"/><circle cx="1084.4" cy="195.4" r="2.75"/><circle cx="1075.6" cy="202.5" r="2.75"/><circle cx="1072.2" cy="208.7" r="2.75"/><circle cx="1083.7" cy="214.5" r="2.75"/><circle cx="1098.7" cy="185.2" r="2.75"/><circle cx="1099.8" cy="198.4" r="2.75"/><circle cx="1094.0" cy="200.7" r="2.75"/><circle cx="1092.9" cy="207.6" r="2.75"/><circle cx="1102.1" cy="214.5" r="2.75"/><circle cx="1107.9" cy="165.4" r="2.75"/><circle cx="1107.4" cy="169.6" r="2.75"/><circle cx="1118.2" cy="167.2" r="2.75"/><circle cx="1118.2" cy="171.9" r="2.75"/><circle cx="1123.3" cy="151.1" r="2.75"/><circle cx="1123.3" cy="158.0" r="2.75"/><circle cx="1124.5" cy="183.4" r="2.75"/><circle cx="1118.2" cy="188.5" r="2.75"/><circle cx="1109.0" cy="193.8" r="2.75"/><circle cx="1113.6" cy="200.7" r="2.75"/><circle cx="1107.9" cy="207.6" r="2.75"/><circle cx="1118.2" cy="212.2" r="2.75"/><circle cx="1122.9" cy="221.4" r="2.75"/><circle cx="1127.5" cy="200.7" r="2.75"/><circle cx="1005.3" cy="213.3" r="2.75"/><circle cx="1019.1" cy="203.0" r="2.75"/><circle cx="1023.8" cy="207.6" r="2.75"/><circle cx="1000.7" cy="216.8" r="2.75"/><circle cx="1062.9" cy="224.9" r="2.75"/><circle cx="1069.8" cy="219.1" r="2.75"/><circle cx="950.0" cy="323.8" r="2.75"/><circle cx="950.0" cy="335.3" r="2.75"/><circle cx="954.6" cy="342.2" r="2.75"/><circle cx="954.6" cy="348.0" r="2.75"/><circle cx="960.4" cy="342.2" r="2.75"/><circle cx="962.7" cy="357.2" r="2.75"/><circle cx="962.7" cy="364.1" r="2.75"/><circle cx="969.6" cy="356.0" r="2.75"/><circle cx="971.9" cy="344.5" r="2.75"/><circle cx="977.7" cy="358.3" r="2.75"/><circle cx="978.8" cy="365.2" r="2.75"/><circle cx="983.4" cy="356.0" r="2.75"/><circle cx="991.5" cy="358.3" r="2.75"/><circle cx="997.2" cy="368.7" r="2.75"/><circle cx="1004.2" cy="374.5" r="2.75"/><circle cx="1011.1" cy="367.5" r="2.75"/><circle cx="1014.5" cy="372.2" r="2.75"/><circle cx="1019.1" cy="376.8" r="2.75"/><circle cx="1016.8" cy="381.4" r="2.75"/><circle cx="1013.4" cy="386.0" r="2.75"/><circle cx="1012.2" cy="390.6" r="2.75"/><circle cx="1004.2" cy="389.4" r="2.75"/><circle cx="1004.2" cy="396.4" r="2.75"/><circle cx="1011.1" cy="399.8" r="2.75"/><circle cx="1022.6" cy="394.0" r="2.75"/><circle cx="1026.1" cy="374.5" r="2.75"/><circle cx="1031.8" cy="374.5" r="2.75"/><circle cx="1030.7" cy="381.4" r="2.75"/><circle cx="1031.4" cy="395.2" r="2.75"/><circle cx="1033.0" cy="402.1" r="2.75"/><circle cx="1028.4" cy="406.7" r="2.75"/><circle cx="1028.4" cy="413.6" r="2.75"/><circle cx="1033.0" cy="413.6" r="2.75"/><circle cx="1038.7" cy="388.3" r="2.75"/><circle cx="1038.7" cy="397.5" r="2.75"/><circle cx="1038.7" cy="409.0" r="2.75"/><circle cx="1038.7" cy="413.6" r="2.75"/><circle cx="1038.3" cy="429.8" r="2.75"/><circle cx="1038.3" cy="438.5" r="2.75"/><circle cx="1046.8" cy="374.5" r="2.75"/><circle cx="1053.7" cy="386.0" r="2.75"/><circle cx="1056.0" cy="379.1" r="2.75"/><circle cx="1060.6" cy="383.7" r="2.75"/><circle cx="1056.5" cy="395.2" r="2.75"/><circle cx="1062.9" cy="399.8" r="2.75"/><circle cx="1060.6" cy="406.7" r="2.75"/><circle cx="1054.9" cy="409.0" r="2.75"/><circle cx="1054.9" cy="412.5" r="2.75"/><circle cx="1060.2" cy="415.9" r="2.75"/><circle cx="1065.2" cy="407.9" r="2.75"/><circle cx="1065.2" cy="414.1" r="2.75"/><circle cx="1067.5" cy="388.3" r="2.75"/><circle cx="1071.0" cy="396.4" r="2.75"/><circle cx="1074.5" cy="374.5" r="2.75"/><circle cx="1079.1" cy="376.8" r="2.75"/><circle cx="1083.7" cy="379.1" r="2.75"/><circle cx="1088.3" cy="379.1" r="2.75"/><circle cx="1094.0" cy="388.3" r="2.75"/><circle cx="1098.7" cy="388.3" r="2.75"/><circle cx="1099.8" cy="395.2" r="2.75"/><circle cx="1102.1" cy="404.4" r="2.75"/><circle cx="1088.3" cy="401.0" r="2.75"/><circle cx="1084.8" cy="406.7" r="2.75"/><circle cx="1081.4" cy="409.0" r="2.75"/><circle cx="1076.8" cy="410.2" r="2.75"/><circle cx="1094.0" cy="410.2" r="2.75"/><circle cx="1106.7" cy="415.9" r="2.75"/><circle cx="1111.3" cy="392.9" r="2.75"/><circle cx="1120.6" cy="390.6" r="2.75"/><circle cx="1125.2" cy="397.5" r="2.75"/><circle cx="1126.3" cy="401.0" r="2.75"/><circle cx="1127.5" cy="407.9" r="2.75"/><circle cx="1120.6" cy="407.9" r="2.75"/><circle cx="1122.9" cy="415.9" r="2.75"/><circle cx="1062.9" cy="435.5" r="2.75"/><circle cx="1067.5" cy="429.8" r="2.75"/><circle cx="1071.5" cy="432.1" r="2.75"/><circle cx="1071.5" cy="436.2" r="2.75"/><circle cx="1081.4" cy="435.5" r="2.75"/><circle cx="1087.1" cy="428.6" r="2.75"/><circle cx="1087.1" cy="432.1" r="2.75"/><circle cx="1106.3" cy="437.1" r="2.75"/><circle cx="1071.5" cy="463.6" r="2.75"/><circle cx="1081.4" cy="467.1" r="2.75"/><circle cx="1087.6" cy="467.8" r="2.75"/><circle cx="950.0" cy="376.8" r="2.75"/><circle cx="950.0" cy="382.5" r="2.75"/><circle cx="969.6" cy="377.9" r="2.75"/><circle cx="973.0" cy="380.2" r="2.75"/><circle cx="978.8" cy="381.8" r="2.75"/><circle cx="991.5" cy="376.3" r="2.75"/><circle cx="991.5" cy="382.1" r="2.75"/><circle cx="1069.8" cy="365.2" r="2.75"/><circle cx="1111.3" cy="374.5" r="2.75"/><circle cx="1115.9" cy="379.1" r="2.75"/><circle cx="1125.2" cy="379.1" r="2.75"/><circle cx="1120.6" cy="365.2" r="2.75"/><circle cx="1105.6" cy="369.8" r="2.75"/><circle cx="1123.5" cy="151.1" r="2.75"/><circle cx="1123.5" cy="156.9" r="2.75"/><circle cx="1133.4" cy="150.0" r="2.75"/><circle cx="1133.4" cy="173.0" r="2.75"/><circle cx="1133.4" cy="177.6" r="2.75"/><circle cx="1131.5" cy="184.5" r="2.75"/><circle cx="1124.6" cy="183.4" r="2.75"/><circle cx="1123.5" cy="214.5" r="2.75"/><circle cx="1129.2" cy="198.4" r="2.75"/><circle cx="1136.1" cy="196.1" r="2.75"/><circle cx="1144.2" cy="193.8" r="2.75"/><circle cx="1145.4" cy="200.7" r="2.75"/><circle cx="1138.4" cy="212.2" r="2.75"/><circle cx="1133.8" cy="216.8" r="2.75"/><circle cx="1160.3" cy="162.2" r="2.75"/><circle cx="1160.3" cy="171.9" r="2.75"/><circle cx="1160.3" cy="176.5" r="2.75"/><circle cx="1165.4" cy="146.5" r="2.75"/><circle cx="1169.6" cy="134.3" r="2.75"/><circle cx="1169.6" cy="149.5" r="2.75"/><circle cx="1169.6" cy="175.3" r="2.75"/><circle cx="1170.2" cy="194.4" r="2.75"/><circle cx="1171.2" cy="206.4" r="2.75"/><circle cx="1171.2" cy="216.3" r="2.75"/><circle cx="1156.4" cy="206.4" r="2.75"/><circle cx="1156.4" cy="214.5" r="2.75"/><circle cx="1151.1" cy="227.2" r="2.75"/><circle cx="1161.5" cy="224.9" r="2.75"/><circle cx="1170.7" cy="222.6" r="2.75"/><circle cx="1177.6" cy="232.9" r="2.75"/><circle cx="1188.0" cy="224.9" r="2.75"/><circle cx="1198.4" cy="170.7" r="2.75"/><circle cx="1198.4" cy="176.5" r="2.75"/><circle cx="1207.6" cy="166.1" r="2.75"/><circle cx="1207.1" cy="175.3" r="2.75"/><circle cx="1207.1" cy="179.5" r="2.75"/><circle cx="1193.8" cy="190.3" r="2.75"/><circle cx="1198.4" cy="196.1" r="2.75"/><circle cx="1194.9" cy="203.0" r="2.75"/><circle cx="1196.1" cy="212.2" r="2.75"/><circle cx="1207.6" cy="191.4" r="2.75"/><circle cx="1206.4" cy="200.7" r="2.75"/><circle cx="1206.4" cy="207.6" r="2.75"/><circle cx="1208.7" cy="213.3" r="2.75"/><circle cx="1206.4" cy="216.8" r="2.75"/><circle cx="1198.4" cy="223.7" r="2.75"/><circle cx="1207.6" cy="229.5" r="2.75"/><circle cx="1218.4" cy="191.4" r="2.75"/><circle cx="1228.3" cy="182.2" r="2.75"/><circle cx="1228.3" cy="189.1" r="2.75"/><circle cx="1228.3" cy="205.3" r="2.75"/><circle cx="1218.4" cy="230.6" r="2.75"/><circle cx="1226.0" cy="228.3" r="2.75"/><circle cx="1221.4" cy="232.9" r="2.75"/><circle cx="1238.2" cy="218.4" r="2.75"/><circle cx="1246.1" cy="206.9" r="2.75"/><circle cx="1248.4" cy="216.3" r="2.75"/><circle cx="1250.2" cy="226.0" r="2.75"/><circle cx="1252.5" cy="239.8" r="2.75"/><circle cx="1236.4" cy="246.8" r="2.75"/><circle cx="1246.8" cy="249.1" r="2.75"/><circle cx="1264.0" cy="221.4" r="2.75"/><circle cx="1265.2" cy="230.6" r="2.75"/><circle cx="1262.9" cy="235.2" r="2.75"/><circle cx="1269.8" cy="244.5" r="2.75"/><circle cx="1279.0" cy="245.6" r="2.75"/><circle cx="1285.9" cy="245.6" r="2.75"/><circle cx="1289.9" cy="168.4" r="2.75"/><circle cx="1289.9" cy="184.5" r="2.75"/><circle cx="1289.9" cy="194.4" r="2.75"/><circle cx="1297.5" cy="235.2" r="2.75"/><circle cx="1300.0" cy="232.9" r="2.75"/><circle cx="1120.0" cy="379.1" r="2.75"/><circle cx="1124.6" cy="381.4" r="2.75"/><circle cx="1129.2" cy="374.5" r="2.75"/><circle cx="1133.8" cy="367.5" r="2.75"/><circle cx="1138.4" cy="374.5" r="2.75"/><circle cx="1141.9" cy="379.1" r="2.75"/><circle cx="1145.4" cy="383.7" r="2.75"/><circle cx="1147.7" cy="388.3" r="2.75"/><circle cx="1154.6" cy="369.8" r="2.75"/><circle cx="1152.3" cy="379.1" r="2.75"/><circle cx="1156.9" cy="381.4" r="2.75"/><circle cx="1162.6" cy="376.8" r="2.75"/><circle cx="1159.2" cy="387.1" r="2.75"/><circle cx="1166.1" cy="389.4" r="2.75"/><circle cx="1169.6" cy="384.8" r="2.75"/><circle cx="1175.3" cy="381.4" r="2.75"/><circle cx="1182.2" cy="386.0" r="2.75"/><circle cx="1177.6" cy="390.6" r="2.75"/><circle cx="1190.3" cy="383.7" r="2.75"/><circle cx="1190.3" cy="397.5" r="2.75"/><circle cx="1200.7" cy="362.9" r="2.75"/><circle cx="1203.0" cy="379.1" r="2.75"/><circle cx="1204.1" cy="388.3" r="2.75"/><circle cx="1203.0" cy="409.0" r="2.75"/><circle cx="1204.1" cy="404.4" r="2.75"/><circle cx="1215.6" cy="383.7" r="2.75"/><circle cx="1221.4" cy="376.8" r="2.75"/><circle cx="1224.9" cy="395.2" r="2.75"/><circle cx="1227.2" cy="399.8" r="2.75"/><circle cx="1227.2" cy="406.7" r="2.75"/><circle cx="1232.9" cy="401.0" r="2.75"/><circle cx="1228.3" cy="383.7" r="2.75"/><circle cx="1235.2" cy="379.1" r="2.75"/><circle cx="1244.5" cy="379.1" r="2.75"/><circle cx="1243.3" cy="390.6" r="2.75"/><circle cx="1250.2" cy="381.4" r="2.75"/><circle cx="1248.6" cy="405.6" r="2.75"/><circle cx="1269.8" cy="386.0" r="2.75"/><circle cx="1273.3" cy="402.1" r="2.75"/><circle cx="1276.7" cy="383.7" r="2.75"/><circle cx="1281.3" cy="386.0" r="2.75"/><circle cx="1288.2" cy="386.0" r="2.75"/><circle cx="1297.5" cy="383.7" r="2.75"/><circle cx="1290.6" cy="396.4" r="2.75"/><circle cx="1295.2" cy="405.6" r="2.75"/><circle cx="1298.6" cy="407.9" r="2.75"/><circle cx="1120.0" cy="390.6" r="2.75"/><circle cx="1126.9" cy="398.7" r="2.75"/><circle cx="1126.9" cy="407.9" r="2.75"/><circle cx="1121.2" cy="407.9" r="2.75"/><circle cx="1123.5" cy="415.9" r="2.75"/><circle cx="1141.2" cy="394.0" r="2.75"/><circle cx="1147.7" cy="397.5" r="2.75"/><circle cx="1150.0" cy="403.3" r="2.75"/><circle cx="1147.7" cy="407.9" r="2.75"/><circle cx="1145.4" cy="432.1" r="2.75"/><circle cx="1147.7" cy="436.2" r="2.75"/><circle cx="1202.5" cy="426.3" r="2.75"/><circle cx="1209.9" cy="421.0" r="2.75"/><circle cx="1215.2" cy="434.4" r="2.75"/><circle cx="1226.0" cy="431.6" r="2.75"/><circle cx="1232.2" cy="415.9" r="2.75"/><circle cx="1232.2" cy="423.3" r="2.75"/><circle cx="1243.3" cy="424.5" r="2.75"/><circle cx="1282.5" cy="418.2" r="2.75"/><circle cx="1282.5" cy="444.3" r="2.75"/><circle cx="1290.6" cy="432.1" r="2.75"/><circle cx="1290.6" cy="436.2" r="2.75"/><circle cx="1290.0" cy="168.4" r="2.75"/><circle cx="1290.0" cy="184.6" r="2.75"/><circle cx="1290.0" cy="193.8" r="2.75"/><circle cx="1305.4" cy="222.6" r="2.75"/><circle cx="1305.4" cy="227.2" r="2.75"/><circle cx="1296.9" cy="235.3" r="2.75"/><circle cx="1296.9" cy="239.9" r="2.75"/><circle cx="1303.4" cy="243.3" r="2.75"/><circle cx="1318.3" cy="238.7" r="2.75"/><circle cx="1318.3" cy="246.8" r="2.75"/><circle cx="1328.5" cy="251.4" r="2.75"/><circle cx="1328.5" cy="259.5" r="2.75"/><circle cx="1337.2" cy="235.3" r="2.75"/><circle cx="1337.2" cy="249.1" r="2.75"/><circle cx="1337.2" cy="257.2" r="2.75"/><circle cx="1337.2" cy="262.9" r="2.75"/><circle cx="1345.3" cy="264.1" r="2.75"/><circle cx="1362.1" cy="239.2" r="2.75"/><circle cx="1362.1" cy="245.6" r="2.75"/><circle cx="1362.1" cy="256.0" r="2.75"/><circle cx="1364.9" cy="264.1" r="2.75"/><circle cx="1370.7" cy="269.8" r="2.75"/><circle cx="1376.4" cy="275.6" r="2.75"/><circle cx="1385.0" cy="287.6" r="2.75"/><circle cx="1396.0" cy="242.2" r="2.75"/><circle cx="1396.0" cy="248.0" r="2.75"/><circle cx="1392.6" cy="260.6" r="2.75"/><circle cx="1396.0" cy="265.2" r="2.75"/><circle cx="1408.2" cy="265.2" r="2.75"/><circle cx="1412.2" cy="269.8" r="2.75"/><circle cx="1412.2" cy="275.6" r="2.75"/><circle cx="1412.2" cy="280.2" r="2.75"/><circle cx="1400.2" cy="288.3" r="2.75"/><circle cx="1414.5" cy="290.6" r="2.75"/><circle cx="1441.0" cy="298.7" r="2.75"/><circle cx="1432.9" cy="303.3" r="2.75"/><circle cx="1454.8" cy="309.0" r="2.75"/><circle cx="1309.6" cy="249.1" r="2.75"/><circle cx="1320.0" cy="272.2" r="2.75"/><circle cx="1326.9" cy="271.0" r="2.75"/><circle cx="1331.5" cy="282.5" r="2.75"/><circle cx="1290.0" cy="396.6" r="2.75"/><circle cx="1294.6" cy="380.5" r="2.75"/><circle cx="1294.6" cy="387.4" r="2.75"/><circle cx="1298.1" cy="387.4" r="2.75"/><circle cx="1294.6" cy="404.7" r="2.75"/><circle cx="1298.1" cy="407.0" r="2.75"/><circle cx="1308.4" cy="396.6" r="2.75"/><circle cx="1308.4" cy="410.4" r="2.75"/><circle cx="1308.4" cy="417.3" r="2.75"/><circle cx="1313.0" cy="375.9" r="2.75"/><circle cx="1313.0" cy="381.6" r="2.75"/><circle cx="1322.3" cy="383.9" r="2.75"/><circle cx="1322.3" cy="408.1" r="2.75"/><circle cx="1322.3" cy="411.6" r="2.75"/><circle cx="1324.6" cy="366.6" r="2.75"/><circle cx="1330.3" cy="374.7" r="2.75"/><circle cx="1332.6" cy="364.3" r="2.75"/><circle cx="1337.2" cy="371.3" r="2.75"/><circle cx="1337.2" cy="382.8" r="2.75"/><circle cx="1344.2" cy="371.3" r="2.75"/><circle cx="1345.3" cy="379.3" r="2.75"/><circle cx="1344.2" cy="395.5" r="2.75"/><circle cx="1344.2" cy="402.4" r="2.75"/><circle cx="1353.4" cy="373.6" r="2.75"/><circle cx="1353.4" cy="381.6" r="2.75"/><circle cx="1355.7" cy="382.8" r="2.75"/><circle cx="1362.6" cy="370.1" r="2.75"/><circle cx="1364.9" cy="365.5" r="2.75"/><circle cx="1364.9" cy="354.0" r="2.75"/><circle cx="1377.6" cy="359.7" r="2.75"/><circle cx="1377.6" cy="395.5" r="2.75"/><circle cx="1390.3" cy="381.2" r="2.75"/><circle cx="1390.3" cy="392.0" r="2.75"/><circle cx="1399.5" cy="386.2" r="2.75"/><circle cx="1405.2" cy="381.6" r="2.75"/><circle cx="1417.9" cy="375.9" r="2.75"/><circle cx="1427.6" cy="379.3" r="2.75"/><circle cx="1427.6" cy="390.8" r="2.75"/><circle cx="1431.0" cy="397.8" r="2.75"/><circle cx="1431.0" cy="403.5" r="2.75"/><circle cx="1431.0" cy="412.7" r="2.75"/><circle cx="1434.0" cy="382.8" r="2.75"/><circle cx="1445.6" cy="379.3" r="2.75"/><circle cx="1457.8" cy="398.9" r="2.75"/><circle cx="1457.8" cy="412.7" r="2.75"/><circle cx="1459.4" cy="394.3" r="2.75"/><circle cx="1303.8" cy="375.9" r="2.75"/><circle cx="1301.5" cy="371.3" r="2.75"/><circle cx="1296.9" cy="369.0" r="2.75"/><circle cx="1317.7" cy="364.3" r="2.75"/><circle cx="1324.6" cy="357.4" r="2.75"/><circle cx="1351.1" cy="428.6" r="2.75"/><circle cx="1351.1" cy="461.3" r="2.75"/><circle cx="1351.1" cy="492.7" r="2.75"/><circle cx="1351.1" cy="496.6" r="2.75"/><circle cx="1290.0" cy="432.1" r="2.75"/><circle cx="1290.0" cy="436.7" r="2.75"/><circle cx="1164.8" cy="63.5" r="2.75"/><circle cx="1165.5" cy="94.9" r="2.75"/><circle cx="1165.5" cy="117.7" r="2.75"/><circle cx="1055.7" cy="133.4" r="2.75"/><circle cx="1169.0" cy="133.4" r="2.75"/><circle cx="850.8" cy="305.3" r="2.75"/><circle cx="842.6" cy="302.1" r="2.75"/><circle cx="801.1" cy="276.3" r="2.75"/><circle cx="874.0" cy="297.3" r="2.75"/><circle cx="946.4" cy="317.6" r="2.75"/><circle cx="902.2" cy="307.1" r="2.75"/><circle cx="837.7" cy="308.2" r="2.75"/><circle cx="780.6" cy="287.9" r="2.75"/><circle cx="810.4" cy="283.0" r="2.75"/><circle cx="878.3" cy="296.3" r="2.75"/><circle cx="900.6" cy="311.3" r="2.75"/><circle cx="928.4" cy="325.4" r="2.75"/><circle cx="811.6" cy="286.7" r="2.75"/><circle cx="787.1" cy="291.1" r="2.75"/><circle cx="805.5" cy="274.8" r="2.75"/><circle cx="835.0" cy="297.4" r="2.75"/><circle cx="949.1" cy="336.0" r="2.75"/><circle cx="842.5" cy="305.9" r="2.75"/><circle cx="790.5" cy="282.4" r="2.75"/><circle cx="851.5" cy="303.5" r="2.75"/><circle cx="898.8" cy="304.9" r="2.75"/><circle cx="944.4" cy="316.0" r="2.75"/><circle cx="871.3" cy="297.4" r="2.75"/><circle cx="864.3" cy="309.5" r="2.75"/><circle cx="796.3" cy="281.5" r="2.75"/><circle cx="942.3" cy="319.3" r="2.75"/><circle cx="784.6" cy="283.1" r="2.75"/><circle cx="895.6" cy="305.1" r="2.75"/><circle cx="897.6" cy="304.7" r="2.75"/><circle cx="813.2" cy="278.3" r="2.75"/><circle cx="932.0" cy="315.7" r="2.75"/><circle cx="897.9" cy="309.7" r="2.75"/><circle cx="852.6" cy="306.0" r="2.75"/><circle cx="887.0" cy="301.3" r="2.75"/><circle cx="786.0" cy="286.3" r="2.75"/><circle cx="856.4" cy="306.9" r="2.75"/><circle cx="825.1" cy="292.7" r="2.75"/><circle cx="894.9" cy="302.7" r="2.75"/><circle cx="882.4" cy="294.8" r="2.75"/><circle cx="839.4" cy="307.7" r="2.75"/><circle cx="792.8" cy="278.2" r="2.75"/><circle cx="812.3" cy="280.8" r="2.75"/><circle cx="852.1" cy="301.6" r="2.75"/><circle cx="914.5" cy="309.6" r="2.75"/><circle cx="796.9" cy="277.9" r="2.75"/><circle cx="905.1" cy="220.4" r="2.75"/><circle cx="886.4" cy="206.5" r="2.75"/><circle cx="908.7" cy="232.3" r="2.75"/><circle cx="917.2" cy="239.6" r="2.75"/><circle cx="909.0" cy="223.4" r="2.75"/><circle cx="904.7" cy="220.7" r="2.75"/><circle cx="912.9" cy="231.7" r="2.75"/><circle cx="888.8" cy="205.3" r="2.75"/><circle cx="946.7" cy="220.9" r="2.75"/><circle cx="1005.6" cy="207.1" r="2.75"/><circle cx="960.6" cy="215.7" r="2.75"/><circle cx="979.2" cy="208.0" r="2.75"/><circle cx="1128.3" cy="206.2" r="2.75"/><circle cx="1117.6" cy="230.5" r="2.75"/><circle cx="1102.9" cy="210.1" r="2.75"/><circle cx="1088.2" cy="224.8" r="2.75"/><circle cx="992.4" cy="221.4" r="2.75"/><circle cx="1074.0" cy="218.5" r="2.75"/><circle cx="1105.7" cy="212.8" r="2.75"/><circle cx="1114.4" cy="217.4" r="2.75"/><circle cx="1073.3" cy="232.6" r="2.75"/><circle cx="1004.7" cy="205.0" r="2.75"/><circle cx="1124.6" cy="213.1" r="2.75"/><circle cx="1093.6" cy="211.4" r="2.75"/><circle cx="954.3" cy="207.2" r="2.75"/><circle cx="986.3" cy="218.8" r="2.75"/><circle cx="988.8" cy="221.7" r="2.75"/><circle cx="1092.9" cy="225.7" r="2.75"/><circle cx="1051.4" cy="218.9" r="2.75"/><circle cx="973.1" cy="207.2" r="2.75"/><circle cx="987.8" cy="213.7" r="2.75"/><circle cx="1066.4" cy="215.8" r="2.75"/><circle cx="1128.3" cy="212.8" r="2.75"/><circle cx="1124.8" cy="226.9" r="2.75"/><circle cx="1026.0" cy="196.6" r="2.75"/><circle cx="997.9" cy="209.0" r="2.75"/><circle cx="966.7" cy="199.1" r="2.75"/><circle cx="991.4" cy="221.9" r="2.75"/><circle cx="952.6" cy="207.7" r="2.75"/><circle cx="1019.7" cy="205.8" r="2.75"/><circle cx="957.1" cy="219.8" r="2.75"/><circle cx="1012.4" cy="220.3" r="2.75"/><circle cx="1017.3" cy="192.1" r="2.75"/><circle cx="1093.4" cy="225.2" r="2.75"/><circle cx="1085.9" cy="218.2" r="2.75"/><circle cx="1041.5" cy="211.5" r="2.75"/><circle cx="1108.6" cy="214.0" r="2.75"/><circle cx="958.3" cy="208.5" r="2.75"/><circle cx="1090.6" cy="224.5" r="2.75"/><circle cx="950.2" cy="215.9" r="2.75"/><circle cx="1060.8" cy="225.7" r="2.75"/><circle cx="1006.7" cy="209.8" r="2.75"/><circle cx="1065.5" cy="228.6" r="2.75"/><circle cx="1071.0" cy="233.4" r="2.75"/><circle cx="998.3" cy="211.4" r="2.75"/><circle cx="1118.6" cy="229.5" r="2.75"/><circle cx="1124.1" cy="237.9" r="2.75"/><circle cx="1018.0" cy="209.2" r="2.75"/><circle cx="1071.1" cy="232.5" r="2.75"/><circle cx="1084.6" cy="225.4" r="2.75"/><circle cx="1013.8" cy="216.8" r="2.75"/><circle cx="985.2" cy="217.4" r="2.75"/><circle cx="1035.1" cy="229.8" r="2.75"/><circle cx="954.4" cy="225.4" r="2.75"/><circle cx="1073.1" cy="211.8" r="2.75"/><circle cx="996.0" cy="211.6" r="2.75"/><circle cx="1022.2" cy="214.4" r="2.75"/><circle cx="1065.3" cy="225.9" r="2.75"/><circle cx="1069.2" cy="221.1" r="2.75"/><circle cx="1121.9" cy="239.7" r="2.75"/><circle cx="996.5" cy="204.7" r="2.75"/><circle cx="1083.6" cy="221.9" r="2.75"/><circle cx="1094.7" cy="210.5" r="2.75"/><circle cx="1092.3" cy="222.4" r="2.75"/><circle cx="1005.8" cy="192.5" r="2.75"/><circle cx="1060.5" cy="235.2" r="2.75"/><circle cx="1035.4" cy="224.8" r="2.75"/><circle cx="1129.9" cy="223.9" r="2.75"/><circle cx="1093.0" cy="219.6" r="2.75"/><circle cx="973.8" cy="207.7" r="2.75"/><circle cx="952.6" cy="220.9" r="2.75"/><circle cx="1099.2" cy="217.2" r="2.75"/><circle cx="1059.5" cy="237.7" r="2.75"/><circle cx="1066.5" cy="230.4" r="2.75"/><circle cx="1019.0" cy="206.4" r="2.75"/><circle cx="1068.6" cy="216.7" r="2.75"/><circle cx="1023.9" cy="210.9" r="2.75"/><circle cx="1118.3" cy="241.2" r="2.75"/><circle cx="1122.7" cy="380.8" r="2.75"/><circle cx="1059.5" cy="365.5" r="2.75"/><circle cx="1022.5" cy="374.6" r="2.75"/><circle cx="993.2" cy="352.2" r="2.75"/><circle cx="1018.7" cy="358.3" r="2.75"/><circle cx="952.3" cy="329.4" r="2.75"/><circle cx="1020.2" cy="358.8" r="2.75"/><circle cx="1078.3" cy="376.4" r="2.75"/><circle cx="952.1" cy="336.8" r="2.75"/><circle cx="1068.0" cy="371.5" r="2.75"/><circle cx="973.7" cy="331.7" r="2.75"/><circle cx="1119.3" cy="368.4" r="2.75"/><circle cx="1024.2" cy="368.2" r="2.75"/><circle cx="997.5" cy="356.7" r="2.75"/><circle cx="1038.0" cy="369.5" r="2.75"/><circle cx="998.4" cy="361.9" r="2.75"/><circle cx="1123.8" cy="383.3" r="2.75"/><circle cx="1074.6" cy="361.9" r="2.75"/><circle cx="1032.7" cy="384.4" r="2.75"/><circle cx="1026.9" cy="363.5" r="2.75"/><circle cx="1007.5" cy="359.3" r="2.75"/><circle cx="954.4" cy="342.1" r="2.75"/><circle cx="1086.8" cy="380.7" r="2.75"/><circle cx="975.8" cy="338.0" r="2.75"/><circle cx="954.7" cy="364.4" r="2.75"/><circle cx="986.1" cy="345.1" r="2.75"/><circle cx="1096.4" cy="400.4" r="2.75"/><circle cx="950.4" cy="327.0" r="2.75"/><circle cx="1103.2" cy="394.3" r="2.75"/><circle cx="1077.4" cy="361.3" r="2.75"/><circle cx="1043.0" cy="372.8" r="2.75"/><circle cx="967.7" cy="331.4" r="2.75"/><circle cx="1009.1" cy="369.6" r="2.75"/><circle cx="1067.6" cy="368.3" r="2.75"/><circle cx="1030.0" cy="379.7" r="2.75"/><circle cx="970.1" cy="343.2" r="2.75"/><circle cx="1011.3" cy="368.8" r="2.75"/><circle cx="1087.6" cy="363.2" r="2.75"/><circle cx="1095.9" cy="393.6" r="2.75"/><circle cx="1068.5" cy="373.2" r="2.75"/><circle cx="993.7" cy="365.0" r="2.75"/><circle cx="1129.3" cy="362.9" r="2.75"/><circle cx="1072.4" cy="373.1" r="2.75"/><circle cx="966.6" cy="353.8" r="2.75"/><circle cx="1008.4" cy="368.9" r="2.75"/><circle cx="986.2" cy="343.1" r="2.75"/><circle cx="1109.6" cy="368.5" r="2.75"/><circle cx="1112.8" cy="366.2" r="2.75"/><circle cx="1121.0" cy="372.2" r="2.75"/><circle cx="1116.4" cy="393.2" r="2.75"/><circle cx="1127.2" cy="402.0" r="2.75"/><circle cx="1027.4" cy="379.7" r="2.75"/><circle cx="1047.6" cy="359.8" r="2.75"/><circle cx="999.5" cy="356.1" r="2.75"/><circle cx="969.6" cy="338.1" r="2.75"/><circle cx="1076.0" cy="357.7" r="2.75"/><circle cx="974.2" cy="345.6" r="2.75"/><circle cx="1107.7" cy="363.5" r="2.75"/><circle cx="1014.6" cy="359.7" r="2.75"/><circle cx="1052.1" cy="392.0" r="2.75"/><circle cx="1050.4" cy="367.1" r="2.75"/><circle cx="960.3" cy="346.6" r="2.75"/><circle cx="1103.8" cy="378.7" r="2.75"/><circle cx="1067.7" cy="390.3" r="2.75"/><circle cx="1104.2" cy="362.1" r="2.75"/><circle cx="1009.0" cy="359.7" r="2.75"/><circle cx="1017.4" cy="366.6" r="2.75"/><circle cx="951.1" cy="356.3" r="2.75"/><circle cx="952.1" cy="322.4" r="2.75"/><circle cx="967.0" cy="327.6" r="2.75"/><circle cx="1017.4" cy="364.1" r="2.75"/><circle cx="962.4" cy="324.4" r="2.75"/><circle cx="1043.9" cy="370.5" r="2.75"/><circle cx="1046.1" cy="384.4" r="2.75"/><circle cx="1114.6" cy="359.0" r="2.75"/><circle cx="1095.0" cy="402.9" r="2.75"/><circle cx="1079.2" cy="361.8" r="2.75"/><circle cx="1105.4" cy="363.3" r="2.75"/><circle cx="1073.8" cy="367.7" r="2.75"/><circle cx="1085.6" cy="369.5" r="2.75"/><circle cx="959.4" cy="330.5" r="2.75"/><circle cx="965.2" cy="324.7" r="2.75"/><circle cx="994.5" cy="366.6" r="2.75"/><circle cx="963.3" cy="345.3" r="2.75"/><circle cx="1033.6" cy="383.3" r="2.75"/><circle cx="987.3" cy="357.7" r="2.75"/><circle cx="1029.9" cy="372.5" r="2.75"/><circle cx="1094.4" cy="392.2" r="2.75"/><circle cx="1025.2" cy="361.4" r="2.75"/><circle cx="1103.1" cy="363.1" r="2.75"/><circle cx="974.6" cy="359.8" r="2.75"/><circle cx="1065.6" cy="361.6" r="2.75"/><circle cx="1091.9" cy="365.4" r="2.75"/><circle cx="1001.9" cy="355.5" r="2.75"/><circle cx="978.6" cy="346.9" r="2.75"/><circle cx="994.8" cy="372.6" r="2.75"/><circle cx="1029.8" cy="374.5" r="2.75"/><circle cx="1043.2" cy="393.7" r="2.75"/><circle cx="1037.2" cy="370.0" r="2.75"/><circle cx="1101.2" cy="363.3" r="2.75"/><circle cx="972.7" cy="369.6" r="2.75"/><circle cx="1118.4" cy="403.3" r="2.75"/><circle cx="1095.9" cy="401.9" r="2.75"/><circle cx="1083.3" cy="373.6" r="2.75"/><circle cx="1057.7" cy="364.7" r="2.75"/><circle cx="1076.4" cy="359.7" r="2.75"/><circle cx="1033.2" cy="367.5" r="2.75"/><circle cx="1262.6" cy="228.0" r="2.75"/><circle cx="1194.8" cy="226.2" r="2.75"/><circle cx="1229.5" cy="247.4" r="2.75"/><circle cx="1200.0" cy="229.8" r="2.75"/><circle cx="1136.9" cy="221.2" r="2.75"/><circle cx="1264.1" cy="233.7" r="2.75"/><circle cx="1227.6" cy="242.9" r="2.75"/><circle cx="1231.2" cy="246.9" r="2.75"/><circle cx="1266.1" cy="230.3" r="2.75"/><circle cx="1276.5" cy="233.9" r="2.75"/><circle cx="1140.0" cy="225.2" r="2.75"/><circle cx="1219.5" cy="239.1" r="2.75"/><circle cx="1244.8" cy="230.3" r="2.75"/><circle cx="1138.6" cy="222.6" r="2.75"/><circle cx="1245.3" cy="250.1" r="2.75"/><circle cx="1211.9" cy="236.6" r="2.75"/><circle cx="1218.3" cy="240.8" r="2.75"/><circle cx="1216.6" cy="237.5" r="2.75"/><circle cx="1170.5" cy="234.4" r="2.75"/><circle cx="1283.0" cy="250.9" r="2.75"/><circle cx="1276.5" cy="248.9" r="2.75"/><circle cx="1200.6" cy="215.4" r="2.75"/><circle cx="1161.1" cy="222.1" r="2.75"/><circle cx="1223.8" cy="239.8" r="2.75"/><circle cx="1207.0" cy="234.8" r="2.75"/><circle cx="1239.5" cy="245.6" r="2.75"/><circle cx="1149.9" cy="236.7" r="2.75"/><circle cx="1135.9" cy="205.5" r="2.75"/><circle cx="1256.5" cy="223.5" r="2.75"/><circle cx="1250.9" cy="232.8" r="2.75"/><circle cx="1139.0" cy="228.1" r="2.75"/><circle cx="1180.3" cy="215.4" r="2.75"/><circle cx="1250.9" cy="248.3" r="2.75"/><circle cx="1269.1" cy="242.1" r="2.75"/><circle cx="1248.8" cy="226.8" r="2.75"/><circle cx="1212.0" cy="239.8" r="2.75"/><circle cx="1153.7" cy="229.5" r="2.75"/><circle cx="1208.9" cy="225.8" r="2.75"/><circle cx="1281.7" cy="251.3" r="2.75"/><circle cx="1156.0" cy="227.2" r="2.75"/><circle cx="1282.9" cy="246.4" r="2.75"/><circle cx="1152.1" cy="226.2" r="2.75"/><circle cx="1267.2" cy="238.5" r="2.75"/><circle cx="1232.7" cy="241.5" r="2.75"/><circle cx="1266.5" cy="236.0" r="2.75"/><circle cx="1227.2" cy="230.6" r="2.75"/><circle cx="1191.5" cy="197.9" r="2.75"/><circle cx="1178.6" cy="229.4" r="2.75"/><circle cx="1284.3" cy="245.5" r="2.75"/><circle cx="1196.6" cy="218.6" r="2.75"/><circle cx="1286.5" cy="242.8" r="2.75"/><circle cx="1153.9" cy="227.7" r="2.75"/><circle cx="1165.7" cy="226.3" r="2.75"/><circle cx="1167.9" cy="237.2" r="2.75"/><circle cx="1261.6" cy="235.6" r="2.75"/><circle cx="1160.7" cy="222.5" r="2.75"/><circle cx="1179.5" cy="206.9" r="2.75"/><circle cx="1181.1" cy="225.3" r="2.75"/><circle cx="1275.4" cy="250.4" r="2.75"/><circle cx="1262.8" cy="368.3" r="2.75"/><circle cx="1136.9" cy="369.3" r="2.75"/><circle cx="1157.3" cy="361.6" r="2.75"/><circle cx="1198.8" cy="363.7" r="2.75"/><circle cx="1170.6" cy="381.5" r="2.75"/><circle cx="1220.3" cy="358.7" r="2.75"/><circle cx="1271.0" cy="362.1" r="2.75"/><circle cx="1152.3" cy="367.2" r="2.75"/><circle cx="1258.2" cy="363.0" r="2.75"/><circle cx="1159.6" cy="356.7" r="2.75"/><circle cx="1188.9" cy="364.1" r="2.75"/><circle cx="1193.0" cy="358.5" r="2.75"/><circle cx="1182.8" cy="366.4" r="2.75"/><circle cx="1177.1" cy="360.7" r="2.75"/><circle cx="1209.9" cy="368.7" r="2.75"/><circle cx="1131.7" cy="362.2" r="2.75"/><circle cx="1239.8" cy="366.9" r="2.75"/><circle cx="1270.3" cy="372.3" r="2.75"/><circle cx="1172.6" cy="365.2" r="2.75"/><circle cx="1219.7" cy="375.4" r="2.75"/><circle cx="1175.3" cy="364.8" r="2.75"/><circle cx="1200.9" cy="366.0" r="2.75"/><circle cx="1141.3" cy="359.5" r="2.75"/><circle cx="1182.5" cy="383.2" r="2.75"/><circle cx="1171.8" cy="359.7" r="2.75"/><circle cx="1205.1" cy="374.5" r="2.75"/><circle cx="1215.1" cy="366.1" r="2.75"/><circle cx="1166.7" cy="376.6" r="2.75"/><circle cx="1267.7" cy="382.1" r="2.75"/><circle cx="1141.8" cy="359.7" r="2.75"/><circle cx="1150.4" cy="360.2" r="2.75"/><circle cx="1247.7" cy="388.4" r="2.75"/><circle cx="1244.1" cy="357.1" r="2.75"/><circle cx="1217.2" cy="369.2" r="2.75"/><circle cx="1212.8" cy="365.2" r="2.75"/><circle cx="1268.5" cy="357.5" r="2.75"/><circle cx="1270.6" cy="373.1" r="2.75"/><circle cx="1148.6" cy="364.1" r="2.75"/><circle cx="1289.4" cy="372.1" r="2.75"/><circle cx="1140.0" cy="383.5" r="2.75"/><circle cx="1221.9" cy="376.4" r="2.75"/><circle cx="1147.4" cy="363.0" r="2.75"/><circle cx="1132.9" cy="366.6" r="2.75"/><circle cx="1137.0" cy="369.3" r="2.75"/><circle cx="1264.1" cy="354.6" r="2.75"/><circle cx="1173.3" cy="359.3" r="2.75"/><circle cx="1180.6" cy="357.7" r="2.75"/><circle cx="1147.9" cy="362.0" r="2.75"/><circle cx="1134.7" cy="360.7" r="2.75"/><circle cx="1133.5" cy="364.5" r="2.75"/><circle cx="1221.4" cy="376.0" r="2.75"/><circle cx="1160.3" cy="367.1" r="2.75"/><circle cx="1255.2" cy="363.5" r="2.75"/><circle cx="1268.8" cy="361.2" r="2.75"/><circle cx="1160.8" cy="377.5" r="2.75"/><circle cx="1265.0" cy="367.9" r="2.75"/><circle cx="1164.0" cy="360.9" r="2.75"/><circle cx="1180.6" cy="390.3" r="2.75"/><circle cx="1217.1" cy="363.6" r="2.75"/><circle cx="1283.9" cy="374.7" r="2.75"/><circle cx="1207.6" cy="391.5" r="2.75"/><circle cx="1281.6" cy="376.9" r="2.75"/><circle cx="1217.9" cy="376.7" r="2.75"/><circle cx="1171.2" cy="364.6" r="2.75"/><circle cx="1239.5" cy="355.4" r="2.75"/><circle cx="1199.3" cy="365.4" r="2.75"/><circle cx="1200.4" cy="370.2" r="2.75"/><circle cx="1137.3" cy="360.7" r="2.75"/><circle cx="1202.4" cy="371.9" r="2.75"/><circle cx="1241.9" cy="378.8" r="2.75"/><circle cx="1193.7" cy="367.9" r="2.75"/><circle cx="1144.4" cy="374.6" r="2.75"/><circle cx="1154.0" cy="366.4" r="2.75"/><circle cx="1170.9" cy="364.6" r="2.75"/><circle cx="1215.2" cy="360.6" r="2.75"/><circle cx="1259.8" cy="354.8" r="2.75"/><circle cx="1270.7" cy="375.7" r="2.75"/><circle cx="1204.9" cy="380.2" r="2.75"/><circle cx="1288.8" cy="371.5" r="2.75"/><circle cx="1239.8" cy="355.6" r="2.75"/><circle cx="1315.9" cy="267.1" r="2.75"/><circle cx="1354.2" cy="269.8" r="2.75"/><circle cx="1291.6" cy="255.3" r="2.75"/><circle cx="1303.1" cy="260.0" r="2.75"/><circle cx="1413.0" cy="291.6" r="2.75"/><circle cx="1358.9" cy="272.0" r="2.75"/><circle cx="1417.9" cy="289.0" r="2.75"/><circle cx="1443.2" cy="301.6" r="2.75"/><circle cx="1329.2" cy="263.0" r="2.75"/><circle cx="1424.7" cy="302.8" r="2.75"/><circle cx="1342.4" cy="268.2" r="2.75"/><circle cx="1433.4" cy="299.8" r="2.75"/><circle cx="1359.1" cy="267.5" r="2.75"/><circle cx="1313.0" cy="258.8" r="2.75"/><circle cx="1429.2" cy="304.4" r="2.75"/><circle cx="1453.8" cy="310.3" r="2.75"/><circle cx="1342.4" cy="270.7" r="2.75"/><circle cx="1422.0" cy="305.9" r="2.75"/><circle cx="1451.0" cy="307.8" r="2.75"/><circle cx="1301.2" cy="259.4" r="2.75"/><circle cx="1359.2" cy="271.7" r="2.75"/><circle cx="1339.7" cy="265.1" r="2.75"/><circle cx="1350.6" cy="268.9" r="2.75"/><circle cx="1346.8" cy="266.9" r="2.75"/><circle cx="1424.7" cy="307.6" r="2.75"/><circle cx="1301.7" cy="252.2" r="2.75"/><circle cx="1365.6" cy="268.8" r="2.75"/><circle cx="1448.9" cy="306.3" r="2.75"/><circle cx="1435.9" cy="301.1" r="2.75"/><circle cx="1415.8" cy="289.8" r="2.75"/><circle cx="1323.2" cy="276.2" r="2.75"/><circle cx="1455.9" cy="311.1" r="2.75"/><circle cx="1333.8" cy="281.2" r="2.75"/><circle cx="1410.8" cy="288.9" r="2.75"/><circle cx="1340.5" cy="372.7" r="2.75"/><circle cx="1433.3" cy="385.0" r="2.75"/><circle cx="1418.6" cy="382.1" r="2.75"/><circle cx="1388.4" cy="352.7" r="2.75"/><circle cx="1381.3" cy="352.0" r="2.75"/><circle cx="1460.0" cy="389.4" r="2.75"/><circle cx="1353.1" cy="350.8" r="2.75"/><circle cx="1407.2" cy="369.8" r="2.75"/><circle cx="1376.9" cy="350.3" r="2.75"/><circle cx="1353.1" cy="352.4" r="2.75"/><circle cx="1403.5" cy="375.1" r="2.75"/><circle cx="1436.2" cy="372.5" r="2.75"/><circle cx="1404.3" cy="374.0" r="2.75"/><circle cx="1423.9" cy="373.4" r="2.75"/><circle cx="1399.3" cy="373.7" r="2.75"/><circle cx="1370.2" cy="349.4" r="2.75"/><circle cx="1446.8" cy="378.6" r="2.75"/><circle cx="1303.7" cy="369.1" r="2.75"/><circle cx="1449.5" cy="387.4" r="2.75"/><circle cx="1375.4" cy="359.4" r="2.75"/><circle cx="1377.0" cy="359.7" r="2.75"/><circle cx="1376.8" cy="349.8" r="2.75"/><circle cx="1432.0" cy="379.5" r="2.75"/><circle cx="1429.4" cy="373.8" r="2.75"/><circle cx="1386.0" cy="352.4" r="2.75"/><circle cx="1338.0" cy="362.5" r="2.75"/><circle cx="1351.0" cy="355.2" r="2.75"/><circle cx="1324.8" cy="345.6" r="2.75"/><circle cx="1363.9" cy="349.3" r="2.75"/><circle cx="1388.4" cy="351.5" r="2.75"/><circle cx="1439.6" cy="378.7" r="2.75"/><circle cx="1378.2" cy="351.4" r="2.75"/><circle cx="1407.1" cy="376.8" r="2.75"/><circle cx="1376.7" cy="350.2" r="2.75"/><circle cx="1422.7" cy="380.0" r="2.75"/><circle cx="1326.8" cy="346.2" r="2.75"/><circle cx="1453.0" cy="382.4" r="2.75"/><circle cx="1375.1" cy="357.2" r="2.75"/><circle cx="1371.5" cy="350.2" r="2.75"/><circle cx="1372.4" cy="351.2" r="2.75"/><circle cx="1354.4" cy="364.2" r="2.75"/><circle cx="1446.8" cy="373.6" r="2.75"/><circle cx="1445.3" cy="373.9" r="2.75"/><circle cx="1324.1" cy="344.9" r="2.75"/><circle cx="1391.2" cy="357.0" r="2.75"/></g><polyline points="115.8,358.3 118.1,350.2 121.5,353.7 125.0,360.6 128.4,349.1 131.9,360.6 134.2,349.1 136.5,345.6 138.1,332.9 140.0,358.3 143.4,356.0 146.9,362.9 150.3,351.4 152.6,362.9 156.1,353.7 158.4,365.2 160.7,353.7 163.0,369.8 165.3,360.6 169.9,358.3 173.4,335.2 176.8,343.3 181.4,327.2 186.1,346.8 189.5,342.2 193.0,318.0 196.4,330.6 198.7,319.1 202.2,332.9 205.6,313.3 209.1,321.4 211.4,315.6 213.7,321.4 218.3,305.3 222.9,286.8 227.5,283.4 231.0,289.1 234.5,289.1 237.2,274.2 240.2,305.3 243.7,286.8 247.1,312.2 250.6,321.4 254.0,314.5 257.5,326.0 261.0,312.2 264.4,337.5 269.0,328.3 273.6,349.1 277.1,337.5 281.7,376.7 285.2,367.5 288.6,342.2 290.0,376.7 292.0,365.9 293.8,391.3 295.4,419.0 297.3,402.8 299.6,384.4 301.9,361.3 304.2,336.0 306.5,338.3 308.8,346.4 312.3,338.3 316.9,326.8 320.3,338.3 323.8,349.8 328.4,329.1 331.9,329.1 335.3,353.3 338.8,333.7 342.2,324.5 346.8,303.7 350.3,324.5 353.8,332.5 358.4,333.7 361.8,315.2 365.3,306.0 368.7,296.8 372.2,303.7 374.5,310.6 376.8,308.3 380.3,329.1 383.7,312.9 386.0,308.3 389.5,317.5 392.9,292.2 396.4,294.5 399.8,306.0 404.5,301.4 409.8,286.4 413.7,301.4 418.3,307.2 422.9,299.1 426.4,298.0 429.8,322.2 433.3,331.4 436.7,317.5 441.3,292.2 444.8,292.2 448.2,289.9 452.4,284.1 457.5,306.0 460.0,302.6 460.4,303.7 462.7,310.6 465.0,296.8 467.3,276.1 470.7,273.8 473.0,273.8 475.4,278.4 477.7,296.8 480.0,312.9 482.3,308.3 484.6,317.5 488.0,308.3 491.5,292.2 493.8,283.0 494.9,292.2 497.2,273.8 499.6,285.3 501.9,280.7 505.3,303.7 509.9,321.0 512.2,310.6 515.7,276.1 519.1,303.7 521.4,312.9 524.9,303.7 527.2,312.9 530.7,296.8 533.0,294.5 536.4,285.3 538.7,289.9 542.2,287.6 545.6,285.3 548.0,273.8 550.3,266.8 553.7,278.4 557.2,299.1 560.6,308.3 564.1,296.8 567.5,289.9 571.0,283.0 574.5,281.8 577.9,283.0 579.1,303.7 581.4,279.5 583.7,291.0 588.3,287.6 592.9,296.8 596.4,301.4 599.8,310.6 603.3,296.8 606.7,287.6 610.2,286.4 612.5,271.4 614.8,258.8 618.2,273.8 620.0,269.0 622.3,271.3 625.8,292.0 629.2,303.5 632.7,294.3 636.1,287.4 640.7,275.9 643.0,289.7 645.4,294.3 648.8,296.6 653.4,292.0 656.9,294.3 660.0,298.8 663.7,301.3 666.2,306.2 669.9,301.3 673.6,296.3 676.1,308.7 679.8,326.0 682.3,340.9 683.5,368.1 686.0,360.7 688.5,383.0 690.9,375.5 693.4,385.4 695.9,363.2 699.6,348.3 702.1,333.5 705.8,329.8 709.5,328.5 712.0,321.1 715.7,308.7 719.4,291.4 723.1,269.1 726.8,251.8 730.5,234.5 734.3,224.6 738.0,207.2 741.7,194.9 741.8,197.7 744.2,189.3 746.6,192.9 749.0,195.3 751.4,192.9 753.0,186.9 754.9,207.2 757.3,216.8 758.5,207.2 760.9,231.1 763.3,212.0 765.7,228.7 768.1,213.2 770.5,231.1 772.9,214.4 775.3,226.3 777.6,243.1 780.0,212.0 782.4,221.6 784.8,238.3 787.2,245.5 789.6,238.3 790.4,249.7 792.7,238.2 795.0,231.3 796.6,265.9 798.4,178.3 800.1,143.7 801.9,189.8 803.0,231.3 805.4,173.7 807.2,199.0 808.8,192.1 812.3,205.9 814.6,210.6 818.0,203.6 821.5,215.2 824.9,229.0 828.4,231.3 831.9,242.8 835.3,231.3 837.6,240.5 841.1,245.1 843.4,256.6 848.0,265.9 851.4,256.6 854.9,252.0 858.4,261.3 863.0,265.9 866.4,254.3 869.9,256.6 873.3,256.6 876.8,233.6 878.4,219.8 880.3,240.5 882.6,254.3 886.0,263.6 889.5,252.0 892.9,263.6 898.7,256.6 903.3,268.2 907.9,275.1 912.5,272.8 918.3,275.1 921.7,279.7 925.2,272.8 929.8,275.1 934.4,270.5 937.9,282.0 941.3,277.4 945.9,279.7 950.0,269.8 953.5,281.3 955.8,288.2 958.1,279.0 961.5,295.2 963.8,288.2 966.1,276.7 968.4,295.2 970.7,281.3 973.0,290.6 975.4,269.8 977.7,292.9 980.0,276.7 983.4,281.3 986.9,285.9 990.3,292.9 993.8,295.2 996.1,313.6 998.4,318.2 1001.9,297.5 1005.3,290.6 1008.8,288.2 1012.2,304.4 1014.5,292.9 1016.8,276.7 1019.1,290.6 1022.6,288.2 1026.1,295.2 1028.4,318.2 1031.8,297.5 1035.3,299.8 1038.7,341.3 1042.2,309.0 1044.5,295.2 1048.0,302.1 1051.4,297.5 1054.9,299.8 1058.3,309.0 1060.6,304.4 1062.9,318.2 1065.2,306.7 1067.5,325.1 1069.8,299.8 1073.3,290.6 1075.6,311.3 1079.1,297.5 1082.5,311.3 1086.0,299.8 1088.3,309.0 1091.7,297.5 1095.2,313.6 1098.7,302.1 1102.1,297.5 1105.6,318.2 1107.9,285.9 1111.3,309.0 1114.8,306.7 1118.2,283.6 1120.0,304.4 1123.5,299.8 1125.8,304.4 1129.2,295.2 1132.7,302.1 1135.0,292.9 1138.4,292.9 1141.9,304.4 1144.2,315.9 1147.7,306.7 1151.1,295.2 1154.6,306.7 1158.0,302.1 1161.5,295.2 1164.9,289.4 1168.4,306.7 1171.9,313.6 1175.3,304.4 1177.6,302.1 1181.1,306.7 1184.5,311.3 1188.0,302.1 1191.4,311.3 1193.8,299.8 1196.5,285.9 1199.5,302.1 1203.0,306.7 1206.4,287.1 1209.9,315.9 1213.3,320.5 1216.8,306.7 1220.3,304.4 1223.7,311.3 1227.2,318.2 1230.6,304.4 1234.1,315.9 1237.5,302.1 1241.0,306.7 1245.6,306.7 1249.1,304.4 1253.7,311.3 1258.3,297.5 1261.7,309.0 1265.2,306.7 1268.7,302.1 1272.1,309.0 1276.7,313.6 1279.0,299.8 1282.5,313.6 1285.9,299.8 1290.0,320.6 1292.3,315.9 1294.6,309.0 1296.9,318.2 1299.2,311.3 1301.5,306.7 1303.8,315.9 1306.1,325.2 1308.0,333.2 1309.6,315.9 1311.9,311.3 1314.2,320.6 1316.5,315.9 1318.8,318.2 1321.1,325.2 1323.4,311.3 1325.7,309.0 1328.0,315.9 1331.5,315.9 1334.9,313.6 1338.4,318.2 1341.9,315.9 1345.3,322.9 1348.8,315.9 1351.1,334.4 1353.4,318.2 1355.7,311.3 1359.1,322.9 1362.6,320.6 1366.1,318.2 1369.5,325.2 1373.0,318.2 1376.4,325.2 1379.9,320.6 1383.3,325.2 1386.8,322.9 1390.3,332.1 1392.6,320.6 1396.0,325.2 1399.5,329.8 1402.9,332.1 1406.4,325.2 1409.8,327.5 1413.3,325.2 1416.3,341.3 1419.1,348.2 1422.5,345.9 1426.0,348.2 1428.3,341.3 1431.7,341.3 1435.2,336.7 1438.7,332.1 1442.1,334.4 1444.4,343.6 1446.7,352.8 1450.2,350.5 1453.2,343.6 1455.9,355.1 1457.8,366.6 1460.6,332.1 1463.3,329.8" fill="none" stroke="#ff7f0e" stroke-width="2.08" stroke-linejoin="round"/></g><rect x="115.5" y="38.5" width="1347.0" height="479.9" fill="none" stroke="#000" stroke-width="1.11"/><path d="M110.64 61.5H115.5M110.64 120.5H115.5M110.64 179.5H115.5M110.64 239.5H115.5M110.64 298.5H115.5M110.64 357.5H115.5M110.64 416.5H115.5M110.64 476.5H115.5M115.5 518.4V523.26M284.5 518.4V523.26M452.5 518.4V523.26M620.5 518.4V523.26M789.5 518.4V523.26M957.5 518.4V523.26M1125.5 518.4V523.26M1294.5 518.4V523.26" stroke="#000" stroke-width="1.11" fill="none"/><text x="66.83" y="68.50" font-size="23.0" textLength="38.61" lengthAdjust="spacingAndGlyphs">2.0</text><text x="67.32" y="127.50" font-size="23.0" textLength="37.74" lengthAdjust="spacingAndGlyphs">1.5</text><text x="66.79" y="186.50" font-size="23.0" textLength="38.65" lengthAdjust="spacingAndGlyphs">1.0</text><text x="66.49" y="246.50" font-size="23.0" textLength="38.58" lengthAdjust="spacingAndGlyphs">0.5</text><text x="65.97" y="305.50" font-size="23.0" textLength="39.49" lengthAdjust="spacingAndGlyphs">0.0</text><text x="49.10" y="364.50" font-size="23.0" textLength="55.99" lengthAdjust="spacingAndGlyphs">−0.5</text><text x="48.59" y="423.50" font-size="23.0" textLength="56.89" lengthAdjust="spacingAndGlyphs">−1.0</text><text x="49.10" y="483.50" font-size="23.0" textLength="55.99" lengthAdjust="spacingAndGlyphs">−1.5</text><defs><clipPath id="clipb"><rect x="115.5" y="575.6" width="1347.0" height="478.85"/></clipPath></defs><rect x="128" y="575.6" width="600.8" height="478.85" fill="#e6e6e6"/><path d="M284.5 575.6V1054.45M452.5 575.6V1054.45M620.5 575.6V1054.45M789.5 575.6V1054.45M957.5 575.6V1054.45M1125.5 575.6V1054.45M1294.5 575.6V1054.45M115.5 1035.5H1462.5M115.5 953.5H1462.5M115.5 872.5H1462.5M115.5 790.5H1462.5M115.5 709.5H1462.5M115.5 627.5H1462.5" stroke="#b0b0b0" stroke-width="1.1" stroke-dasharray="1.1 1.83" fill="none"/><g clip-path="url(#clipb)"><polygon points="115.8,929.1 119.2,930.3 121.5,931.2 126.1,938.3 128.4,933.7 133.0,931.4 137.7,929.1 141.1,929.1 144.6,929.1 146.9,924.5 148.0,923.9 153.8,921.0 156.1,919.8 159.6,910.6 163.0,901.4 167.6,892.2 169.9,887.6 171.1,885.7 175.7,878.0 176.8,876.1 179.1,879.9 183.8,887.6 188.4,884.5 190.7,883.0 194.1,889.9 197.6,896.8 202.2,906.0 204.5,910.6 206.8,907.6 211.4,901.4 216.0,879.9 218.3,869.1 219.5,867.2 222.9,861.5 225.2,857.6 227.5,861.5 232.2,869.1 236.8,881.4 239.1,887.6 241.4,883.7 244.8,878.0 246.0,876.1 248.3,873.8 251.7,870.3 252.9,869.1 254.0,872.2 256.4,878.4 259.8,887.6 264.4,878.4 266.7,873.8 269.0,877.2 275.9,887.6 280.6,885.3 285.2,883.0 290.0,878.4 292.7,907.4 293.8,919.8 296.1,903.7 299.6,877.6 300.7,869.1 301.9,867.2 305.4,861.5 307.7,857.6 308.8,866.5 312.3,893.0 314.6,910.6 318.0,903.7 321.5,896.8 326.1,899.9 328.4,901.4 331.2,897.7 334.2,893.7 335.3,892.2 338.8,889.9 342.2,887.6 346.8,902.9 349.1,910.6 351.4,889.1 354.9,856.9 356.1,846.1 357.2,843.2 360.7,834.6 361.8,844.9 364.1,865.7 367.6,896.8 371.0,924.2 374.5,938.3 378.0,917.5 381.4,896.8 387.2,864.1 388.3,857.6 390.6,873.0 392.9,888.3 395.2,903.7 396.4,899.9 401.0,884.5 402.2,880.7 405.6,888.7 407.9,894.1 409.1,896.8 411.4,907.6 416.0,929.1 419.4,906.0 421.7,883.0 422.9,873.8 424.0,871.1 428.7,860.3 429.8,857.6 432.1,849.9 436.7,834.6 441.3,845.3 443.6,850.7 445.9,856.9 450.6,869.1 455.2,873.6 460.0,878.4 460.4,876.3 463.8,857.6 466.1,840.3 468.4,823.0 469.6,841.5 473.0,896.8 476.5,908.3 480.0,919.8 483.4,894.5 485.7,877.6 486.9,869.1 489.2,861.5 493.8,846.1 498.4,861.5 500.7,869.1 505.3,876.8 507.6,880.7 508.8,884.5 512.2,896.0 514.5,903.7 515.7,912.4 519.1,938.3 523.8,932.1 526.1,929.1 528.4,912.9 533.0,880.7 534.1,883.4 537.6,891.4 539.9,896.8 541.0,894.1 544.5,886.0 546.8,880.7 548.0,886.4 551.4,903.7 553.7,915.2 556.0,909.1 560.6,896.8 565.2,901.4 567.5,903.7 569.8,896.0 574.5,880.7 575.6,872.0 579.1,846.1 581.4,880.7 583.7,915.2 587.1,922.2 590.6,929.1 591.0,928.5 595.2,922.9 597.5,919.8 599.8,918.3 604.4,915.2 605.6,907.6 609.0,884.5 611.3,869.1 612.5,872.0 615.9,880.7 619.4,939.6 620.0,949.8 622.3,961.3 625.8,944.0 626.9,942.9 629.2,923.3 631.5,903.7 632.7,915.2 635.0,938.3 636.1,949.8 638.4,938.3 641.9,921.0 643.0,915.2 645.4,919.8 648.8,926.8 650.0,929.1 652.3,932.1 655.7,936.7 656.9,938.3 659.2,903.7 661.5,869.1 663.8,834.6 666.1,832.3 669.6,828.8 670.7,827.7 675.3,835.3 677.6,839.2 678.8,840.3 683.4,844.9 686.8,848.4 689.1,850.7 691.4,848.4 696.1,843.8 700.7,839.2 704.1,821.8 707.6,804.5 712.2,781.3 716.8,772.1 722.6,760.6 723.7,758.3 728.3,766.0 730.6,769.8 732.9,802.2 735.2,834.6 737.5,851.9 739.8,869.1 741.0,871.1 744.5,876.8 746.8,880.7 747.9,878.7 751.4,873.0 753.7,869.1 755.5,876.5 758.3,887.6 760.6,896.8 761.7,899.9 765.2,909.1 767.5,915.2 772.1,918.3 774.4,919.8 779.0,932.1 781.3,938.3 783.6,941.4 788.2,947.5 790.4,959.8 793.8,948.2 798.4,941.3 803.0,943.6 807.7,945.9 812.3,944.1 818.0,941.8 819.2,941.3 823.8,933.6 826.1,929.8 828.4,936.1 831.9,945.7 835.3,955.2 837.6,952.9 841.1,964.4 844.5,945.9 849.1,939.8 851.4,936.7 853.8,950.6 856.1,964.4 858.4,978.2 864.1,978.2 869.9,978.2 872.2,978.2 874.5,980.5 879.1,985.1 886.0,992.0 892.9,994.3 899.8,996.6 906.8,992.0 913.7,987.4 920.6,991.4 927.5,995.3 929.8,996.6 934.4,999.9 941.3,1004.9 945.9,1008.2 950.0,1011.2 953.5,1000.7 957.9,1006.0 960.6,1014.8 964.1,1013.9 967.7,1018.4 972.1,1015.7 976.5,1020.1 981.8,1022.8 988.0,1020.1 993.3,1020.1 998.6,1014.8 1003.0,1021.0 1008.3,1023.7 1014.5,1022.8 1020.7,1025.4 1026.8,1024.5 1033.0,1025.4 1041.8,1024.5 1050.7,1027.2 1057.7,1023.7 1064.8,1027.2 1071.9,1024.5 1082.5,1024.5 1090.4,1022.8 1098.4,1027.2 1109.0,1028.1 1116.0,1026.3 1122.2,1023.7 1128.4,1024.5 1137.2,1027.2 1142.5,1025.4 1147.8,1020.1 1153.1,1020.1 1158.4,1023.7 1163.7,1025.4 1169.0,1021.9 1176.1,1023.7 1184.9,1024.5 1191.1,1019.2 1197.3,1022.8 1202.6,1025.4 1207.9,1019.2 1210.0,1020.1 1214.7,1019.9 1223.8,1020.8 1233.0,1019.9 1240.4,1014.4 1247.7,1014.4 1253.2,1012.6 1258.7,1018.1 1265.1,1011.7 1271.5,1018.1 1278.9,1010.7 1286.2,1018.1 1293.5,1021.8 1300.9,1019.9 1310.1,1010.7 1317.4,1012.6 1324.7,1010.7 1330.2,1001.6 1335.7,1010.7 1341.2,999.7 1346.7,1010.7 1355.9,1012.6 1363.2,996.1 1370.6,997.9 1377.9,999.7 1383.4,992.4 1388.0,977.7 1392.6,983.2 1397.2,977.7 1401.8,981.4 1407.3,985.1 1410.9,974.1 1412.8,963.1 1416.4,970.4 1423.8,953.9 1429.3,963.1 1434.8,952.0 1436.6,929.1 1441.2,936.5 1445.8,946.5 1449.5,941.0 1453.1,938.3 1456.8,955.7 1459.5,902.5 1460.1,880.5 1464.1,880.5 1464.1,1002.4 1458.6,1006.1 1455.0,1011.6 1447.6,1017.1 1438.5,1017.1 1429.3,1020.8 1420.1,1022.6 1410.9,1024.4 1401.8,1022.6 1392.6,1020.8 1383.4,1024.4 1374.3,1029.0 1355.9,1028.1 1337.6,1029.9 1310.1,1029.9 1273.4,1029.9 1236.7,1034.3 1210.0,1035.1 1162.0,1035.1 1126.6,1035.1 1091.3,1035.1 1056.0,1035.1 1020.7,1034.8 1003.0,1034.4 985.3,1033.9 967.7,1033.0 958.8,1029.5 950.0,1027.8 948.2,1028.9 939.0,1027.7 929.8,1026.6 922.9,1025.4 916.0,1025.4 909.1,1025.4 902.2,1023.1 895.2,1020.8 888.3,1020.8 881.4,1018.5 874.5,1016.2 867.6,1016.2 860.7,1018.5 853.8,1013.9 846.8,1009.3 839.9,1016.2 833.0,1013.9 828.4,1007.0 823.8,1007.0 816.9,1009.3 810.0,1007.0 805.4,1004.7 800.7,1016.2 795.0,1018.5 790.4,1016.2 785.9,1015.5 779.0,1015.5 772.1,1017.8 767.5,1013.1 760.6,1008.5 753.7,1006.2 749.1,1003.9 744.5,997.0 739.8,999.3 735.2,1013.1 728.3,999.3 721.4,994.7 714.5,999.3 707.6,999.3 700.7,992.4 696.1,994.7 689.1,990.1 684.5,987.8 677.6,985.5 670.7,985.5 666.1,1010.8 661.5,1010.8 655.7,1017.8 650.0,1015.5 643.0,1020.1 636.1,1020.1 631.5,1015.5 624.6,1015.5 620.0,1024.7 613.6,1013.1 606.7,1013.1 599.8,1013.1 592.9,1017.8 586.0,1017.8 580.2,999.3 574.5,1003.9 567.5,1006.2 560.6,999.3 553.7,999.3 546.8,1006.2 539.9,1003.9 535.3,990.1 530.7,994.7 523.8,1001.6 516.8,1006.2 512.2,999.3 507.6,1008.5 500.7,1013.1 496.1,1013.1 489.2,1003.9 482.3,1010.8 477.7,1010.8 471.9,1003.9 468.4,971.7 463.8,997.0 460.0,999.3 457.5,1003.9 452.9,999.3 447.1,1005.1 442.5,985.5 439.0,971.7 435.6,976.3 429.8,1003.9 424.0,1008.5 419.4,1010.8 414.8,1016.6 409.1,1013.1 403.3,1012.0 397.5,1010.8 391.8,999.3 388.3,971.7 384.9,997.0 379.1,1008.5 374.5,1010.8 368.7,1003.9 364.1,997.0 359.5,999.3 353.8,1006.2 346.8,1008.5 342.2,1010.8 335.3,1014.3 329.6,1010.8 323.8,1010.8 318.0,1013.1 313.4,1018.9 307.7,1008.5 303.0,997.0 299.6,994.7 295.0,1006.2 290.0,980.9 285.2,985.5 280.6,985.5 274.8,994.7 269.0,994.7 262.1,999.3 252.9,997.0 247.1,1003.9 239.1,1001.6 233.3,999.3 229.8,990.1 225.2,976.3 224.1,985.5 220.6,999.3 213.7,1006.2 206.8,1003.9 202.2,1013.1 195.3,999.3 188.4,1003.9 181.4,1013.1 176.8,1010.8 171.1,1012.0 165.3,1008.5 159.6,1013.1 153.8,1003.9 146.9,1006.2 140.0,1010.8 135.4,1010.8 129.6,1020.1 121.5,1017.8 115.8,1020.1" fill="#1f77b4"/><path d="M462.9 862.8V862.3M804.0 944.1V935.4M422.6 875.9V864.0M587.6 923.1V920.5M218.8 868.4V829.1M584.3 916.6V907.2M576.9 862.0V826.5M915.0 988.2V987.1M932.2 998.3V994.2M535.8 887.2V872.4M715.3 775.0V768.1M400.2 887.2V886.2M398.5 892.8V849.8M932.3 998.4V991.0M117.9 929.8V915.3M758.6 889.0V882.7M198.1 897.8V878.3M854.4 954.6V932.0M730.0 768.8V753.6M552.2 907.7V854.1M803.7 944.0V919.6M309.0 867.7V813.9M295.7 906.3V904.2M578.5 850.4V829.7M606.5 901.4V888.2M915.5 988.5V987.9M252.1 870.0V814.0M809.9 945.0V942.6M306.3 859.9V821.0M246.1 876.0V851.3M709.3 796.1V792.5M945.5 1007.9V1001.0M773.7 919.3V910.9M422.1 880.3V838.2M750.7 874.2V868.1M166.4 894.7V868.6M387.0 865.1V817.9M466.4 838.4V724.6M283.3 883.9V839.8M698.3 841.5V820.7M181.8 884.4V873.4M922.7 992.6V989.0M251.6 870.5V854.5M563.5 899.7V865.7M117.8 929.8V929.8M529.2 907.0V900.1M781.7 938.8V937.6M536.8 889.6V849.3M775.0 921.5V912.9M463.0 862.3V850.4M848.5 940.6V939.7M390.9 875.1V849.6M263.6 880.0V829.4M547.8 885.4V853.8M460.1 878.0V848.5M386.3 868.8V863.9M499.5 865.2V845.9M633.8 926.4V915.1M227.7 861.8V790.4M390.8 874.1V854.7M564.4 900.6V852.1M675.3 835.3V792.1M332.0 896.5V879.8M546.4 881.5V810.8M640.5 928.2V927.1M425.0 868.9V822.5M738.1 856.1V843.7M450.5 869.0V837.9M335.7 891.9V873.2M516.1 915.8V906.6M139.5 928.1V919.9M884.0 990.0V983.4M637.4 943.6V926.1M140.6 927.6V923.3M271.9 881.6V852.7M266.8 873.9V848.0M867.7 978.2V963.9M821.7 937.2V934.9M366.2 884.4V857.9M148.8 923.5V913.2M183.4 886.9V842.5M308.9 867.3V841.1M126.6 933.0V932.3M544.2 886.8V791.6M399.8 888.6V875.4M149.1 923.4V918.0M239.0 887.4V872.2M590.8 928.8V901.2M931.4 997.8V994.7M830.0 940.5V939.1M555.5 910.3V878.4M663.8 834.5V812.2M552.5 909.3V850.9M241.6 883.4V850.4M606.0 904.4V890.0M251.7 870.3V847.7M135.5 930.1V893.4M410.2 902.1V858.1M664.5 833.9V833.0M507.7 880.8V879.4M376.5 926.0V914.6M219.8 866.7V809.2M162.4 903.1V899.1M910.1 989.8V987.9M260.4 886.4V815.0M195.5 892.7V860.1M164.2 899.1V889.9M300.5 871.1V836.3M250.4 871.7V835.1M316.8 906.1V874.0M942.2 1005.5V994.6M866.6 978.2V966.3M892.3 994.1V986.9M248.1 873.9V819.6M824.2 933.0V932.6M277.8 886.7V837.4M756.3 879.7V839.5M217.1 874.7V856.5M311.8 889.6V835.6M303.1 865.1V839.6M690.3 849.5V814.5M584.4 916.7V882.8M837.3 953.2V930.3M205.6 909.2V907.5M877.8 983.9V972.2M422.3 878.8V854.0M686.9 848.5V816.5M207.7 906.3V892.1M368.6 903.0V894.8M258.0 882.7V819.0M924.8 993.8V988.0M591.2 928.2V878.8M781.3 938.2V930.3M546.3 881.8V792.8M134.8 930.5V877.8M865.4 978.2V962.0M283.4 883.9V848.1M138.5 928.7V912.7M294.8 912.5V907.6M324.1 898.5V896.3M777.9 929.1V927.0M582.4 895.5V894.1M585.5 918.9V891.7M770.5 917.2V911.9M222.2 862.7V802.1M353.7 868.5V861.2M443.4 850.2V812.1M450.3 868.4V824.2M722.7 760.2V711.9M591.6 927.7V857.0M534.2 883.6V828.9M664.7 833.7V781.3M701.1 836.9V812.0M247.5 874.6V843.0M702.4 830.3V802.5M808.1 945.8V941.0M377.8 918.5V910.2M442.6 848.3V843.0M440.5 843.3V805.3M732.5 795.5V776.0M633.3 921.1V867.6M244.9 877.9V876.8M248.7 873.3V824.7M877.6 983.6V978.6M375.5 932.1V926.2M379.0 911.2V910.1M319.8 900.1V882.8M497.3 857.7V813.4M442.5 848.0V840.1M755.8 877.6V847.2M691.1 848.7V822.3M866.6 978.2V961.2M225.5 858.0V819.6M745.5 878.6V872.7M930.5 997.1V994.5M539.4 895.6V859.6M805.8 945.0V930.8M850.7 937.7V927.3M196.4 894.4V883.8M153.6 921.1V885.8M687.9 849.4V796.5M767.0 914.0V911.6M168.6 890.3V862.4M116.0 929.1V923.7M605.7 906.7V898.3M629.0 925.0V894.3M928.8 996.1V991.9M378.0 917.1V916.7M216.1 879.6V855.2M650.8 930.2V922.7M198.0 897.7V865.5M676.3 837.0V812.4M232.7 870.6V855.9M338.9 889.8V858.2M888.3 992.8V992.3M897.2 995.8V986.5M777.0 926.8V924.9M922.4 992.4V980.1M231.4 867.8V865.2M430.6 854.9V816.1M135.6 930.1V877.3M676.8 837.8V813.7M525.8 929.5V926.2M739.4 865.8V824.2M133.7 931.0V884.9M410.9 905.2V871.6M400.6 885.7V877.4M278.5 886.3V865.1M174.1 880.7V868.4M509.6 887.1V861.5M580.5 868.2V854.3M135.5 930.1V922.0M866.1 978.2V975.2M685.9 847.4V810.7M616.1 882.7V825.8M328.5 901.3V809.0M547.1 882.4V836.7M449.9 867.4V853.9M199.2 900.0V855.1M649.7 928.5V923.2M785.6 944.0V942.4M668.0 830.4V796.5M780.3 935.6V931.2M912.6 988.1V982.0M490.1 858.5V857.8M330.5 898.6V898.2M550.2 897.5V842.2M734.7 827.3V807.4M471.4 870.8V866.1M786.2 944.8V942.5M669.1 829.3V815.2M775.2 921.9V919.5M334.9 892.8V890.8M358.5 839.9V788.8M709.2 796.6V783.0M491.5 853.7V832.2M202.8 907.2V898.7M605.8 905.8V904.8M538.5 893.7V809.0M877.3 983.4V983.3M904.9 993.3V980.4M786.8 945.6V945.5M225.2 857.6V829.4M806.3 945.3V945.2M127.0 933.2V916.9M874.9 980.9V980.3M807.3 945.7V944.8M817.7 941.9V941.9M302.7 865.9V844.4M135.9 929.9V911.4M198.3 898.3V892.1M173.4 881.7V875.5M245.3 877.3V872.5M507.1 879.8V870.6M644.1 917.3V902.7M827.0 932.4V930.0M235.4 877.7V848.1M413.2 916.3V897.1M440.8 844.1V844.1M402.1 880.8V839.2M514.1 902.3V870.5M422.2 878.9V861.1M178.4 878.6V877.0M201.9 905.4V900.0M385.1 876.1V860.8M656.7 938.1V937.4M338.9 889.8V889.8M216.6 877.2V871.6M865.9 978.2V977.9M455.5 874.0V874.0M606.6 900.5V897.3M391.6 879.1V873.8M342.7 889.2V885.7M269.3 877.6V842.8M894.2 994.8V986.1M421.0 889.2V889.2M757.0 882.6V874.1M570.3 894.6V884.9M547.5 884.1V868.4M224.8 858.4V858.4M253.1 869.7V869.1M900.6 996.2V993.5M137.9 928.9V926.1M459.0 877.4V845.0M460.1 877.9V869.1M335.5 892.1V890.6M181.6 884.0V846.6M523.3 932.7V922.5M592.8 926.2V926.0M339.5 889.4V887.3M768.9 916.2V914.9M921.3 991.8V983.1M691.8 848.1V838.9M693.1 846.7V843.6M200.4 902.4V867.9M498.7 862.5V753.2M726.2 762.4V746.6M471.6 873.8V829.9M317.4 905.0V902.7M381.9 894.0V865.6M908.1 991.1V991.1M135.5 930.2V926.1M685.0 846.6V839.3M749.6 875.9V862.0M671.3 828.7V808.1M234.5 875.5V855.7M639.0 935.2V935.0M136.6 929.6V909.0M944.4 1007.1V1004.1M282.6 884.2V842.0M380.2 904.1V901.6M778.1 929.6V922.9M853.8 950.6V950.6M306.0 860.4V841.0M308.5 864.3V823.0M729.8 768.5V735.9M903.2 994.4V986.8M919.5 990.7V988.5M228.4 862.9V847.8M907.2 991.7V983.9M384.0 882.1V881.9M227.0 860.6V860.2M708.4 800.2V797.4M477.9 913.0V883.0M392.3 884.3V868.5M406.5 890.7V881.5M471.1 866.0V850.8M212.6 895.8V877.0M579.5 851.9V851.5M928.7 996.0V982.9M344.6 895.4V893.3M766.8 913.5V910.1M588.1 924.0V911.3M742.6 873.8V871.5M521.8 934.8V925.0M852.2 941.1V916.6M782.7 940.2V935.3M136.8 929.5V925.1M707.1 807.0V805.7M167.6 892.3V880.9M756.6 880.7V813.8M723.1 759.6V751.6M682.7 844.3V814.3M547.5 884.3V854.4M192.0 885.6V880.2M609.4 882.0V844.6M386.0 870.8V825.8M606.1 903.7V899.1M282.8 884.2V860.3M229.4 864.5V855.6M855.2 959.5V936.0M903.7 994.1V993.8M870.2 978.2V975.8M252.3 869.7V824.9M908.5 990.9V968.8M414.3 921.3V920.7M887.1 992.4V988.3M887.8 992.6V988.2M937.2 1001.9V997.4M799.6 941.9V921.2M473.8 899.4V827.8M460.4 875.9V872.1M567.7 903.1V886.4M398.4 893.1V891.4M376.4 926.9V926.5M205.8 908.9V906.9M833.4 949.9V949.6M699.4 840.4V810.2M708.8 798.6V798.3M269.3 877.6V873.4M881.5 987.5V979.8M191.6 884.9V832.0M185.6 886.3V881.6M949.8 1008.2V1001.9M206.6 907.8V893.9M466.2 840.0V794.7M832.0 946.0V944.3M893.3 994.5V985.8M251.5 870.5V870.5M280.3 885.4V873.1M695.3 844.5V810.9M725.5 761.2V739.8M616.8 895.6V878.3M449.1 865.3V842.4M813.3 943.7V932.9M715.0 775.6V761.5M175.4 878.4V873.0M495.4 851.6V845.2M280.5 885.3V879.5M811.0 944.6V944.1M896.2 995.4V995.4M467.3 831.3V781.4M745.3 878.2V878.2M211.2 901.7V901.7M586.9 921.7V921.7M446.0 856.9V854.7M200.6 902.8V898.4M478.7 915.5V907.8M403.3 883.4V883.3M389.7 866.7V839.7M118.0 929.9V926.8M131.3 932.2V892.1M279.2 885.9V872.4M191.3 884.2V862.6M777.0 926.8V920.1M774.4 919.8V912.9M121.5 931.2V929.8M155.9 919.9V917.3M946.9 1008.2V1005.0M727.2 764.2V764.0M836.0 954.5V954.5M314.3 908.9V907.5M689.1 850.7V844.6M437.2 835.7V825.4M744.0 876.1V853.2M820.7 938.9V937.6M158.8 912.7V912.7M211.0 902.0V874.2M185.4 886.5V856.9M116.5 929.3V923.1M321.5 896.8V887.5M749.8 875.5V870.5M176.8 876.1V876.1M434.5 841.9V791.7M502.8 872.7V871.2M508.0 881.9V862.1M287.9 880.3V880.1M881.9 987.9V986.7M485.6 878.7V872.6M319.1 901.5V881.3M785.1 943.3V943.0M720.4 765.0V725.0M463.8 857.7V796.3M190.8 883.3V818.7M825.4 930.9V930.1M346.2 900.7V899.7M229.1 864.0V817.7M698.1 841.7V820.5M651.2 930.7V929.5M187.8 884.9V882.4M773.2 919.1V919.1M560.4 897.3V894.4M355.9 847.5V843.9M609.0 884.6V883.8M247.8 874.2V824.7M745.0 877.7V875.7M325.2 1010.8V1013.6M902.9 1023.4V1027.2M489.4 1004.2V1007.2M418.6 1011.9V1015.3M552.6 1000.4V1001.1M684.5 987.8V992.1M524.6 1000.8V1001.8M371.3 1007.1V1008.1M824.8 1007.0V1010.5M366.3 1000.2V1001.7M221.7 994.9V996.9M939.8 1027.8V1031.5M905.5 1024.2V1025.0M897.1 1021.4V1026.0M800.2 1016.4V1017.3M849.2 1010.8V1015.9M740.6 998.9V1001.3M404.8 1012.3V1016.7M620.8 1023.2V1024.7M184.5 1009.1V1009.8M708.2 999.3V1000.7M226.7 980.7V982.2M505.4 1010.0V1014.2M515.7 1004.5V1005.4M815.1 1008.7V1011.9M576.3 1002.4V1006.9M457.4 1003.9V1005.7M161.3 1011.8V1015.1M640.4 1020.1V1024.9M121.6 1017.8V1019.7M484.6 1008.5V1010.4M151.6 1004.7V1008.7M151.3 1004.8V1007.8M379.1 1008.5V1010.5M823.1 1007.2V1008.3M547.2 1005.8V1007.1M630.5 1015.5V1018.0M678.9 985.9V986.8M649.6 1015.7V1018.8M172.2 1011.8V1016.8M833.9 1014.2V1018.1M779.5 1015.5V1017.7M888.5 1020.8V1021.8M743.4 997.5V1002.6M168.0 1010.2V1013.2M937.4 1027.5V1028.4M587.5 1017.8V1022.3M337.9 1013.0V1014.2M721.5 994.8V998.6M910.7 1025.4V1028.5M160.5 1012.4V1016.4M356.6 1002.8V1005.4M724.1 996.5V1001.6M580.9 1001.6V1002.5M547.4 1005.6V1008.2M750.5 1004.7V1005.7M581.1 1002.2V1003.0M947.3 1028.8V1029.5M572.2 1004.7V1005.7M347.2 1008.4V1010.3M328.9 1010.8V1012.1M375.8 1010.2V1012.5M923.2 1025.5V1026.6M260.9 999.0V999.7M888.7 1020.8V1024.6M816.8 1009.3V1010.2M488.0 1005.1V1008.3M564.0 1002.7V1006.2M279.1 987.8V992.4M615.2 1016.0V1018.8M610.2 1013.1V1015.2M125.6 1018.9V1019.9M521.6 1003.0V1003.9M617.8 1020.7V1021.7M693.5 993.0V994.9M670.7 985.7V987.0M220.3 999.7V1002.8M812.6 1007.8V1009.0M146.0 1006.8V1011.2M751.5 1005.1V1008.9M783.1 1015.5V1017.4M918.6 1025.4V1029.4M753.6 1006.2V1011.0M882.3 1018.8V1021.4M162.7 1010.6V1013.4M533.9 991.5V992.2M380.5 1005.6V1009.7M643.0 1020.1V1024.8M753.7 1006.3V1007.3M717.7 997.2V997.9M849.6 1011.1V1012.5M935.5 1027.3V1028.0M742.4 998.1V998.9M844.3 1011.8V1015.9M547.9 1005.2V1007.8M300.8 995.5V997.2M240.3 1002.0V1003.8M231.6 994.7V997.6M531.5 993.8V995.5M407.6 1012.8V1017.7M915.9 1025.4V1030.5M421.4 1009.9V1010.7M252.5 997.4V1001.7M411.5 1014.6V1015.6M922.5 1025.4V1026.6M588.5 1017.8V1019.7M231.7 995.1V996.8M781.2 1015.5V1018.0M839.8 1016.2V1016.9M206.1 1005.3V1007.3M657.6 1015.5V1017.4M348.2 1008.1V1012.1M835.6 1014.8V1017.8M226.9 981.3V984.9M628.4 1015.5V1019.0M736.6 1009.1V1011.7M439.9 975.0V979.1M897.0 1021.4V1026.3M371.5 1007.2V1008.4M277.7 990.0V993.2M929.8 1026.6V1027.8M494.6 1011.2V1013.7M466.9 980.0V982.5M428.4 1005.0V1007.8M941.5 1028.0V1031.7M928.6 1026.4V1028.3M241.3 1002.3V1003.4M310.6 1013.8V1017.5M303.5 998.3V1000.9M898.5 1021.9V1023.8M315.3 1016.5V1021.0M942.3 1028.1V1028.9M810.1 1007.0V1012.0M365.5 999.0V1000.7M277.1 991.1V992.2M765.2 1011.6V1013.7M376.3 1009.9V1011.6M881.8 1018.6V1023.8M385.1 995.5V996.9M342.6 1010.7V1014.5M882.9 1019.0V1020.1M203.5 1010.5V1012.1M816.5 1009.2V1013.4M917.8 1025.4V1027.3M151.6 1004.7V1005.4M796.5 1017.9V1019.6M259.0 998.5V999.9M199.6 1007.9V1012.6M478.5 1010.8V1013.2M284.0 985.5V987.9M329.4 1010.8V1015.6M846.1 1010.0V1013.4M591.8 1017.8V1021.3M186.6 1006.3V1008.0M859.6 1017.8V1021.6M381.7 1003.3V1005.1M232.8 997.9V998.6M917.8 1025.4V1026.5M791.9 1016.9V1018.0M499.6 1013.1V1015.7M271.2 994.7V996.1M232.7 997.6V998.3M426.1 1006.9V1011.1M301.0 995.6V997.6M447.5 1004.6V1007.0M296.0 1003.6V1004.4M394.1 1003.9V1008.9M605.3 1013.1V1015.2M363.8 997.2V1000.6M240.2 1002.0V1004.8M537.1 995.7V996.4M538.3 999.2V1000.8M123.8 1018.4V1020.5M287.3 983.4V984.3M695.1 994.1V996.6M445.2 997.1V1000.5M855.8 1015.3V1017.0M559.8 999.3V1003.8M340.1 1011.9V1014.0M526.0 999.4V1001.1M588.6 1017.8V1021.6M851.7 1012.5V1014.4M354.4 1005.4V1009.1M709.4 999.3V1000.7M489.6 1004.5V1005.8M557.5 999.3V1000.4M174.9 1011.2V1012.5M188.6 1003.8V1005.2M392.4 1000.6V1002.1M900.5 1022.6V1026.3M335.9 1014.0V1018.6M522.5 1002.5V1003.2M511.6 1000.5V1001.3M347.1 1008.4V1013.4M564.3 1002.9V1008.0M488.5 1004.6V1006.2M308.8 1010.7V1011.9M766.9 1012.7V1015.5M842.5 1013.6V1015.8M850.4 1011.7V1016.2M177.6 1011.2V1014.4M178.2 1011.5V1013.2M222.6 991.3V994.3M219.9 1000.0V1000.9M736.8 1008.3V1011.5M829.8 1009.1V1013.7M717.4 997.4V1001.5M358.7 1000.3V1002.4M575.8 1002.9V1004.7M505.6 1009.9V1012.1M552.2 1000.8V1001.5M240.4 1002.0V1005.8M846.2 1009.9V1011.1M209.8 1004.9V1006.1M857.6 1016.5V1018.5M942.5 1028.1V1030.4M213.1 1006.0V1009.7M216.2 1003.8V1007.1M956.8 1029.1V1032.7M802.6 1011.5V1013.4M167.7 1009.9V1011.1M840.8 1015.4V1019.2M600.3 1013.1V1014.3M518.7 1005.0V1009.0M207.1 1004.0V1008.6M181.1 1013.0V1016.5M130.4 1018.7V1023.0M381.1 1004.5V1007.1M152.0 1004.5V1007.7M957.7 1029.3V1030.7M823.1 1007.2V1008.2M146.0 1006.8V1010.0M343.8 1010.0V1013.5M170.0 1011.4V1012.3M382.0 1002.7V1005.0M317.9 1013.3V1014.2M209.4 1004.8V1006.5M167.6 1009.9V1012.4M139.8 1010.8V1013.2M382.8 1001.2V1001.9M133.7 1013.5V1016.2M716.5 998.0V999.0M597.5 1014.7V1015.5M508.6 1006.7V1010.7M274.8 994.7V996.8M878.1 1017.4V1018.7M776.3 1016.4V1017.2M346.6 1008.7V1012.4M848.3 1010.2V1011.6M462.4 997.9V999.4M277.5 990.3V991.9M824.1 1007.0V1009.6M827.9 1007.0V1009.6M687.3 989.2V991.7M294.3 1003.0V1005.2M406.1 1012.5V1013.7M382.0 1002.8V1007.5M928.6 1026.4V1031.3M575.3 1003.3V1004.6M423.5 1008.8V1010.2M928.0 1026.3V1030.6M780.4 1015.5V1017.8M525.0 1000.4V1004.0M866.9 1016.4V1019.9M915.5 1025.4V1028.2M824.1 1007.0V1009.8M579.3 1000.0V1004.1M492.3 1008.2V1012.3M332.8 1012.8V1017.8M733.3 1009.2V1010.3M693.2 992.8V994.2M197.0 1002.7V1003.6M481.2 1010.8V1015.7M315.7 1016.0V1018.5M486.6 1006.5V1007.6M702.5 994.2V995.7M153.3 1004.1V1008.3M758.9 1008.0V1008.7M497.2 1013.1V1014.7M669.6 991.7V993.2M705.9 997.7V998.4M882.1 1018.7V1021.8M451.6 1000.6V1004.6M740.7 998.9V1000.4M190.9 1002.2V1005.2M473.7 1006.1V1010.4M241.7 1002.4V1006.5M828.0 1007.0V1008.1M331.0 1011.7V1014.6M355.4 1004.2V1006.4M565.1 1003.8V1005.6M219.6 1000.4V1001.8M800.4 1016.3V1020.3M200.7 1010.2V1013.5M858.1 1016.8V1019.6M926.9 1026.1V1028.8M510.8 1002.2V1004.1M608.3 1013.1V1016.3M953.6 1028.5V1029.4M389.9 984.0V988.5M694.8 993.9V995.4M590.5 1017.8V1018.5M242.0 1002.5V1003.2M829.6 1008.8V1009.7M429.7 1004.0V1005.5M703.7 995.4V996.2M122.6 1018.1V1019.1M595.1 1016.3V1017.9M179.3 1012.1V1013.5M338.8 1012.5V1016.0M717.9 997.0V997.8M820.6 1008.0V1008.9M452.8 999.4V1001.4M140.2 1010.7V1011.5M741.8 998.3V1001.6M781.6 1015.5V1020.4M865.8 1016.8V1018.2M670.2 988.3V991.5M307.1 1007.1V1010.7M883.6 1019.2V1022.0M775.4 1016.7V1018.0M828.7 1007.4V1008.9M371.9 1007.7V1010.4M631.7 1015.6V1017.7M817.9 1008.9V1012.6M559.0 999.3V1003.8M453.7 1000.2V1002.0M943.4 1028.3V1029.8M227.6 983.4V987.7M697.4 994.0V995.5M797.1 1017.7V1020.9M497.4 1013.1V1015.6M917.7 1025.4V1027.9M202.8 1011.9V1013.9M371.7 1007.5V1012.4M484.5 1008.6V1010.4M761.9 1009.4V1013.1M182.4 1011.9V1015.2M904.1 1023.8V1026.4M349.2 1007.8V1012.5M169.7 1011.2V1013.4M282.2 985.5V988.0M454.0 1000.5V1004.9M176.5 1010.9V1013.0M358.7 1000.3V1001.2M828.7 1007.5V1010.5M412.2 1015.0V1017.5M493.1 1009.1V1009.9M393.6 1003.0V1003.7M198.8 1006.3V1010.6M775.3 1016.7V1018.1M129.9 1019.5V1024.0M172.3 1011.7V1013.0M832.1 1012.5V1015.1M485.7 1007.4V1011.2M890.9 1020.8V1023.5M893.7 1020.8V1021.6M554.0 999.3V1002.6M830.0 1009.4V1011.6M646.4 1017.8V1019.2M731.7 1006.2V1008.8M951.5 1028.1V1030.5M277.7 990.1V994.0M496.1 1013.1V1014.1M928.2 1026.3V1028.6M256.9 998.0V999.1M329.8 1011.0V1015.7M801.7 1013.9V1014.6M707.1 998.8V1000.4M484.7 1008.4V1011.9M362.6 997.8V999.2M901.6 1022.9V1026.8M817.4 1009.1V1012.7M926.0 1025.9V1029.6M745.2 998.2V999.6M710.5 999.3V1004.1M597.4 1014.8V1018.2M263.0 998.7V1000.8M562.4 1001.0V1004.5M553.6 999.4V1000.6M1462.7 880.5V879.0M1011.5 1023.2V1019.9M1140.2 1026.2V1022.3M965.9 1016.1V1013.2M1303.4 1017.4V1014.8M969.1 1017.5V1015.9M1212.2 1020.0V1019.2M996.1 1017.3V1015.2M1140.3 1026.2V1022.0M1071.7 1024.6V1023.4M1292.4 1021.2V1020.8M1028.1 1024.7V1024.4M1390.9 981.2V978.2M1011.6 1023.2V1022.4M1294.7 1021.5V1021.2M981.5 1022.6V1022.1M1353.8 1012.2V1011.5M1338.5 1005.2V1004.7M1279.8 1011.6V1009.2M1282.4 1014.2V1013.8M1192.0 1019.8V1019.1M1118.0 1025.4V1024.5M1422.8 956.0V955.5M1155.7 1021.8V1018.9M991.4 1020.1V1017.2M1420.6 961.1V958.9M1431.1 959.4V958.0M1354.9 1012.4V1008.2M1207.5 1019.7V1018.3M1445.4 945.6V943.1M1212.3 1020.0V1018.8M1322.9 1011.2V1007.2M1211.9 1020.0V1018.6M1213.9 1020.0V1019.7M1378.4 999.1V996.5M1276.3 1013.3V1010.8M1370.5 997.9V996.5M1247.4 1014.4V1013.7M1239.6 1015.0V1012.7M1242.6 1014.4V1013.9M1094.7 1025.1V1024.9M1168.7 1022.1V1020.2M1133.9 1026.2V1023.8M1149.7 1020.1V1018.6M1054.9 1025.1V1023.3M1062.7 1026.1V1025.5M1173.0 1022.9V1020.7M1217.6 1020.2V1019.6M1246.7 1014.4V1011.9M1060.6 1025.1V1024.7M1401.2 981.0V980.0M1241.9 1014.4V1012.8M1216.1 1020.1V1019.2M1028.7 1024.8V1022.3M1303.1 1017.7V1013.9M1208.8 1019.6V1016.3M1211.6 1020.0V1015.9M1036.8 1025.0V1024.2M1350.3 1011.5V1010.2M1242.9 1014.4V1010.9M1061.1 1025.3V1025.0M959.1 1009.8V1007.6M1441.7 937.6V936.9M1212.8 1020.0V1018.7M1206.6 1020.8V1017.6M1410.6 975.0V973.0M1195.8 1021.9V1018.3M1180.6 1024.1V1023.2M1198.7 1023.5V1021.1M1072.0 1024.5V1021.8M1144.3 1023.6V1023.4M1312.9 1011.5V1007.9M1422.8 956.0V952.0M974.8 1018.4V1014.4M1418.3 966.1V962.6M954.1 1001.4V999.0M1052.7 1026.2V1022.5M1093.3 1024.4V1024.1M1255.4 1014.8V1012.3M1227.2 1020.5V1019.2M985.4 1021.2V1018.6M954.3 1001.6V999.7M1000.8 1017.9V1016.4M1252.7 1012.7V1012.1M1342.3 1001.9V1001.2M1400.3 980.3V979.1M1307.2 1013.6V1012.2M1116.3 1026.2V1025.9M1268.1 1014.6V1014.4M1193.6 1020.7V1019.4M1101.9 1027.5V1026.8M1203.3 1024.6V1021.1M1362.9 996.8V995.9M1259.3 1017.5V1015.3M1325.6 1009.3V1007.1M982.8 1022.3V1021.9M1360.1 1003.2V1002.5M1245.6 1014.4V1014.2M1252.2 1012.9V1012.1M971.8 1015.9V1015.7M1074.1 1024.5V1022.9M1341.2 999.9V999.6M1213.8 1020.0V1019.0M1265.7 1012.3V1009.7M993.8 1019.6V1018.9M1401.8 981.5V979.1M1036.8 1025.0V1023.3M1139.1 1026.6V1026.1M1161.3 1024.6V1022.9M1291.7 1020.8V1017.3M1092.4 1023.9V1019.7M1141.2 1025.9V1023.6M1155.6 1021.8V1020.4M1307.3 1013.5V1010.7M985.5 1021.2V1021.0M1130.6 1025.2V1024.3M1181.9 1024.2V1020.4M1106.5 1027.9V1027.2M1174.2 1023.2V1022.2M1164.1 1025.2V1023.4M1008.9 1023.6V1020.7M1279.2 1011.1V1008.3M1179.1 1024.0V1023.5M1336.1 1010.1V1006.6M1413.8 965.1V962.5M1015.2 1023.1V1022.3M1309.0 1011.8V1011.6M1097.2 1026.5V1025.4M1364.1 996.3V996.1M1092.4 1023.9V1021.6M952.5 1003.9V1003.0M1332.7 1005.7V1004.2M1336.1 1010.1V1009.4M1321.0 1011.7V1011.2M1277.2 1012.4V1009.4M982.5 1022.5V1021.7M1122.2 1023.7V1020.1M985.9 1021.0V1019.8M1467.5 880.5V880.2M1446.7 945.1V944.9M1232.6 1020.0V1018.6M1305.4 1015.4V1014.6M1195.2 1021.6V1018.2M1034.6 1025.3V1021.7M999.5 1016.1V1015.6M1066.5 1026.6V1024.8M1111.3 1027.5V1026.0M981.0 1022.4V1021.5M952.6 1003.3V1002.9M1292.3 1021.1V1019.3M1190.3 1019.9V1019.7M1344.4 1006.1V1005.8M1313.5 1011.6V1010.4M1403.6 982.6V982.3M1132.7 1025.8V1025.6M1437.4 930.4V928.3M1126.1 1024.2V1023.8M1413.3 964.2V963.1M1015.4 1023.2V1021.7M1139.0 1026.6V1023.4M981.4 1022.6V1019.7M1412.2 966.4V966.1M1303.4 1017.4V1014.7M1344.1 1005.4V1002.0M1193.0 1020.3V1018.0M1255.3 1014.6V1013.3M1019.5 1024.9V1023.1M1223.9 1020.8V1019.8M1329.3 1003.2V999.6M1214.7 1019.9V1018.8M1214.8 1019.9V1017.2M1106.9 1027.9V1024.7M1293.6 1021.7V1019.2M1259.6 1017.2V1016.9M1286.3 1018.1V1014.7M1297.6 1020.7V1017.5M1025.6 1024.7V1023.3M1323.2 1011.1V1007.2M993.3 1020.1V1019.5M1074.3 1024.5V1023.8M1287.0 1018.5V1017.2M1430.1 961.3V958.9M1403.0 1022.8V1026.6M1439.4 1017.1V1017.8M1343.2 1029.4V1031.9M1409.2 1024.1V1027.8M1295.1 1029.9V1031.8M1447.9 1016.9V1017.8M1259.4 1030.3V1031.9M1288.4 1029.9V1030.6M1336.7 1029.9V1032.4M1391.8 1021.1V1024.6M1312.0 1029.9V1031.1M1448.7 1016.2V1017.0M1381.0 1025.6V1026.5M1416.9 1023.2V1024.1M1434.0 1018.9V1020.1M1454.9 1011.6V1014.1M1419.5 1022.7V1023.7M1397.8 1021.8V1024.4M1338.1 1029.9V1032.0M1368.1 1028.7V1032.1M1469.6 1002.4V1005.7M1359.7 1028.3V1029.1M1389.1 1022.1V1026.2M1297.3 1029.9V1030.8M1291.8 1029.9V1030.7M1362.7 1028.4V1029.4M1444.9 1017.1V1020.7M1441.7 1017.1V1019.1M1348.7 1028.8V1031.4M1339.3 1029.8V1031.9M1263.7 1030.2V1032.3M1373.3 1029.0V1030.0M1289.6 1029.9V1031.6M1448.0 1016.8V1020.9M1406.0 1023.4V1024.8M1322.4 1029.9V1033.7M1308.7 1029.9V1032.2M1408.8 1024.0V1025.2M1453.9 1012.4V1013.5M1468.2 1002.4V1005.2M1366.1 1028.6V1030.8M1446.3 1017.1V1020.6M1259.5 1030.3V1031.6M1252.0 1030.5V1032.1M1405.2 1023.3V1024.8M1373.8 1029.0V1029.9M1295.2 1029.9V1031.3M1306.1 1029.9V1032.7M1421.6 1022.3V1023.6M1434.3 1018.8V1020.2M1433.1 1019.2V1022.0M1360.1 1028.3V1031.4M1423.5 1021.9V1023.0M1447.6 1017.1V1018.5M1263.7 1030.2V1034.3M1468.3 1002.4V1005.0M1259.6 1030.3V1031.0M1421.9 1022.2V1024.9M1435.2 1018.4V1022.4M1388.0 1022.6V1025.9M1330.5 1029.9V1031.5M1385.7 1023.5V1024.8M1394.0 1021.0V1024.6M1348.5 1028.8V1032.5M1418.0 1023.0V1024.2M1264.9 1030.1V1031.5M1381.1 1025.6V1027.8M1285.7 1029.9V1032.6M1320.1 1029.9V1031.5M1274.8 1029.9V1032.7M1304.9 1029.9V1030.9M1447.0 1017.1V1018.5M1427.7 1021.1V1021.8M1360.9 1028.3V1030.9M1405.0 1023.2V1025.0M1287.9 1029.9V1032.0M1444.3 1017.1V1018.3M631.5 831.4V890.1M645.4 814.1V890.1M741.0 777.2V890.1M756.0 794.5V890.1M687.3 774.9V850.5M705.3 753.0V890.1M709.9 736.9V890.1M713.3 721.9V890.1M716.8 742.6V890.1M722.6 703.5V890.1M726.5 701.2V890.1M730.6 710.4V890.1M734.1 726.5V890.1M669.6 765.7V890.1M675.3 772.6V890.1M175.7 788.7V890.1M178.0 793.4V890.1M180.3 818.7V890.1M189.5 811.8V890.1M193.0 814.1V890.1M219.5 768.0V890.1M222.9 784.1V890.1M226.4 786.4V890.1M229.8 795.7V890.1M234.5 798.0V890.1M237.9 807.2V890.1M244.8 800.3V890.1M248.3 804.9V890.1M255.7 798.0V890.1M266.7 802.6V890.1M270.2 807.2V890.1M278.2 830.2V890.1M285.2 834.8V890.1M288.6 844.1V890.1M204.5 853.3V890.1M211.4 846.4V890.1M151.5 871.7V890.1M165.3 862.5V890.1M170.4 844.1V890.1M303.0 804.9V890.1M306.5 798.0V890.1M310.0 807.2V890.1M356.1 811.8V890.1M360.7 781.8V890.1M363.4 818.7V890.1M388.3 788.7V890.1M424.0 821.0V890.1M428.7 802.6V890.1M433.3 781.8V890.1M436.7 779.5V890.1M440.2 788.7V890.1M447.1 807.2V890.1M451.7 802.6V890.1M456.3 825.6V890.1M285.8 834.8V890.1M289.2 848.7V890.1M464.3 721.9V890.1M467.3 719.6V890.1M470.7 726.5V890.1M473.0 784.1V890.1M486.9 761.1V890.1M489.2 719.6V890.1M491.5 726.5V890.1M494.9 733.4V890.1M498.4 733.4V890.1M500.7 798.0V890.1M451.8 802.6V890.1M535.3 784.1V890.1M577.9 772.6V890.1M580.2 784.1V890.1M612.5 811.8V890.1M614.8 814.1V890.1" stroke="#1f77b4" stroke-width="5.6" stroke-linecap="round" fill="none"/><g fill="#1f77b4"><circle cx="222.9" cy="637.3" r="2.75"/><circle cx="222.9" cy="662.2" r="2.75"/><circle cx="222.9" cy="679.2" r="2.75"/><circle cx="222.9" cy="716.3" r="2.75"/><circle cx="222.9" cy="738.7" r="2.75"/><circle cx="222.9" cy="741.0" r="2.75"/><circle cx="228.7" cy="746.8" r="2.75"/><circle cx="228.7" cy="751.8" r="2.75"/><circle cx="256.4" cy="697.2" r="2.75"/><circle cx="256.4" cy="709.9" r="2.75"/><circle cx="256.4" cy="727.2" r="2.75"/><circle cx="256.4" cy="735.2" r="2.75"/><circle cx="256.4" cy="744.5" r="2.75"/><circle cx="256.4" cy="751.4" r="2.75"/><circle cx="256.4" cy="756.0" r="2.75"/><circle cx="256.4" cy="771.0" r="2.75"/><circle cx="256.4" cy="780.2" r="2.75"/><circle cx="269.0" cy="716.3" r="2.75"/><circle cx="269.0" cy="724.4" r="2.75"/><circle cx="269.0" cy="739.4" r="2.75"/><circle cx="269.0" cy="745.6" r="2.75"/><circle cx="269.0" cy="751.4" r="2.75"/><circle cx="269.0" cy="758.3" r="2.75"/><circle cx="269.0" cy="769.3" r="2.75"/><circle cx="269.0" cy="779.0" r="2.75"/><circle cx="269.0" cy="785.9" r="2.75"/><circle cx="269.0" cy="792.4" r="2.75"/><circle cx="248.3" cy="761.7" r="2.75"/><circle cx="248.3" cy="767.5" r="2.75"/><circle cx="248.3" cy="773.3" r="2.75"/><circle cx="180.3" cy="778.6" r="2.75"/><circle cx="191.4" cy="783.2" r="2.75"/><circle cx="191.4" cy="792.4" r="2.75"/><circle cx="234.5" cy="782.5" r="2.75"/><circle cx="286.3" cy="799.3" r="2.75"/><circle cx="286.3" cy="816.4" r="2.75"/><circle cx="279.4" cy="818.2" r="2.75"/><circle cx="170.4" cy="842.4" r="2.75"/><circle cx="170.4" cy="849.3" r="2.75"/><circle cx="165.3" cy="860.8" r="2.75"/><circle cx="150.3" cy="868.9" r="2.75"/><circle cx="131.9" cy="875.8" r="2.75"/><circle cx="138.8" cy="875.8" r="2.75"/><circle cx="140.0" cy="1013.2" r="2.75"/><circle cx="146.2" cy="1009.3" r="2.75"/><circle cx="159.1" cy="1016.2" r="2.75"/><circle cx="171.1" cy="1015.5" r="2.75"/><circle cx="181.4" cy="1016.2" r="2.75"/><circle cx="203.3" cy="1016.2" r="2.75"/><circle cx="221.8" cy="1009.3" r="2.75"/><circle cx="233.3" cy="1002.4" r="2.75"/><circle cx="247.6" cy="1007.0" r="2.75"/><circle cx="263.3" cy="1002.8" r="2.75"/><circle cx="283.3" cy="990.4" r="2.75"/><circle cx="274.3" cy="998.7" r="2.75"/><circle cx="438.1" cy="632.0" r="2.75"/><circle cx="438.1" cy="690.3" r="2.75"/><circle cx="436.7" cy="700.7" r="2.75"/><circle cx="436.7" cy="707.6" r="2.75"/><circle cx="436.7" cy="714.5" r="2.75"/><circle cx="436.7" cy="728.3" r="2.75"/><circle cx="437.9" cy="735.2" r="2.75"/><circle cx="437.9" cy="742.2" r="2.75"/><circle cx="436.7" cy="749.1" r="2.75"/><circle cx="436.7" cy="758.3" r="2.75"/><circle cx="436.7" cy="767.5" r="2.75"/><circle cx="452.2" cy="697.2" r="2.75"/><circle cx="452.2" cy="707.1" r="2.75"/><circle cx="452.2" cy="722.6" r="2.75"/><circle cx="452.2" cy="728.3" r="2.75"/><circle cx="452.2" cy="737.5" r="2.75"/><circle cx="452.2" cy="742.2" r="2.75"/><circle cx="452.2" cy="754.8" r="2.75"/><circle cx="452.2" cy="772.1" r="2.75"/><circle cx="452.2" cy="779.0" r="2.75"/><circle cx="426.4" cy="752.5" r="2.75"/><circle cx="426.4" cy="757.1" r="2.75"/><circle cx="426.4" cy="772.1" r="2.75"/><circle cx="426.4" cy="776.7" r="2.75"/><circle cx="441.3" cy="782.5" r="2.75"/><circle cx="441.3" cy="795.2" r="2.75"/><circle cx="306.5" cy="751.4" r="2.75"/><circle cx="306.5" cy="756.0" r="2.75"/><circle cx="306.5" cy="762.9" r="2.75"/><circle cx="306.5" cy="781.3" r="2.75"/><circle cx="306.5" cy="785.9" r="2.75"/><circle cx="306.5" cy="792.9" r="2.75"/><circle cx="358.4" cy="746.3" r="2.75"/><circle cx="358.4" cy="751.4" r="2.75"/><circle cx="358.4" cy="757.1" r="2.75"/><circle cx="362.3" cy="758.3" r="2.75"/><circle cx="358.4" cy="769.8" r="2.75"/><circle cx="329.1" cy="767.5" r="2.75"/><circle cx="329.1" cy="779.0" r="2.75"/><circle cx="329.1" cy="785.9" r="2.75"/><circle cx="329.1" cy="792.9" r="2.75"/><circle cx="329.1" cy="802.1" r="2.75"/><circle cx="329.1" cy="813.6" r="2.75"/><circle cx="329.1" cy="827.4" r="2.75"/><circle cx="329.1" cy="836.6" r="2.75"/><circle cx="329.1" cy="850.5" r="2.75"/><circle cx="329.1" cy="859.7" r="2.75"/><circle cx="286.5" cy="799.3" r="2.75"/><circle cx="286.5" cy="815.9" r="2.75"/><circle cx="280.0" cy="818.2" r="2.75"/><circle cx="388.3" cy="784.8" r="2.75"/><circle cx="388.3" cy="792.9" r="2.75"/><circle cx="388.3" cy="804.4" r="2.75"/><circle cx="388.3" cy="815.9" r="2.75"/><circle cx="406.8" cy="776.7" r="2.75"/><circle cx="406.8" cy="784.8" r="2.75"/><circle cx="406.8" cy="797.5" r="2.75"/><circle cx="406.8" cy="811.3" r="2.75"/><circle cx="406.8" cy="834.3" r="2.75"/><circle cx="406.8" cy="848.2" r="2.75"/><circle cx="399.8" cy="851.6" r="2.75"/><circle cx="342.2" cy="855.1" r="2.75"/><circle cx="321.5" cy="871.2" r="2.75"/><circle cx="445.9" cy="810.1" r="2.75"/><circle cx="447.1" cy="822.8" r="2.75"/><circle cx="456.3" cy="844.7" r="2.75"/><circle cx="283.5" cy="990.1" r="2.75"/><circle cx="304.2" cy="1001.7" r="2.75"/><circle cx="398.2" cy="1014.3" r="2.75"/><circle cx="414.4" cy="1020.1" r="2.75"/><circle cx="467.3" cy="623.5" r="2.75"/><circle cx="467.3" cy="629.2" r="2.75"/><circle cx="491.5" cy="621.8" r="2.75"/><circle cx="489.2" cy="637.3" r="2.75"/><circle cx="491.5" cy="644.2" r="2.75"/><circle cx="491.5" cy="656.9" r="2.75"/><circle cx="490.3" cy="667.2" r="2.75"/><circle cx="489.2" cy="674.2" r="2.75"/><circle cx="467.3" cy="661.5" r="2.75"/><circle cx="469.6" cy="673.0" r="2.75"/><circle cx="468.4" cy="681.1" r="2.75"/><circle cx="466.1" cy="694.9" r="2.75"/><circle cx="466.1" cy="704.1" r="2.75"/><circle cx="451.8" cy="697.2" r="2.75"/><circle cx="451.8" cy="707.1" r="2.75"/><circle cx="451.8" cy="723.7" r="2.75"/><circle cx="451.8" cy="739.8" r="2.75"/><circle cx="451.8" cy="753.7" r="2.75"/><circle cx="451.8" cy="772.1" r="2.75"/><circle cx="451.8" cy="779.0" r="2.75"/><circle cx="451.8" cy="799.8" r="2.75"/><circle cx="612.5" cy="656.2" r="2.75"/><circle cx="612.5" cy="663.1" r="2.75"/><circle cx="612.5" cy="676.0" r="2.75"/><circle cx="612.5" cy="716.1" r="2.75"/><circle cx="612.5" cy="730.6" r="2.75"/><circle cx="612.5" cy="747.2" r="2.75"/><circle cx="612.5" cy="756.4" r="2.75"/><circle cx="612.5" cy="773.3" r="2.75"/><circle cx="612.5" cy="785.9" r="2.75"/><circle cx="612.5" cy="797.5" r="2.75"/><circle cx="579.5" cy="708.3" r="2.75"/><circle cx="579.5" cy="726.0" r="2.75"/><circle cx="579.5" cy="735.2" r="2.75"/><circle cx="577.9" cy="744.5" r="2.75"/><circle cx="577.9" cy="758.3" r="2.75"/><circle cx="577.9" cy="767.5" r="2.75"/><circle cx="535.3" cy="747.9" r="2.75"/><circle cx="535.3" cy="768.7" r="2.75"/><circle cx="535.3" cy="777.9" r="2.75"/><circle cx="547.3" cy="746.8" r="2.75"/><circle cx="547.3" cy="758.3" r="2.75"/><circle cx="547.3" cy="779.0" r="2.75"/><circle cx="511.1" cy="794.5" r="2.75"/><circle cx="511.1" cy="822.8" r="2.75"/><circle cx="511.1" cy="843.6" r="2.75"/><circle cx="561.3" cy="795.2" r="2.75"/><circle cx="566.4" cy="802.1" r="2.75"/><circle cx="562.2" cy="811.3" r="2.75"/><circle cx="566.4" cy="821.7" r="2.75"/><circle cx="561.3" cy="822.4" r="2.75"/><circle cx="591.0" cy="850.5" r="2.75"/><circle cx="591.0" cy="859.7" r="2.75"/><circle cx="591.0" cy="868.9" r="2.75"/><circle cx="591.0" cy="878.1" r="2.75"/><circle cx="591.0" cy="885.0" r="2.75"/><circle cx="456.9" cy="844.7" r="2.75"/><circle cx="498.4" cy="760.6" r="2.75"/><circle cx="498.4" cy="773.3" r="2.75"/><circle cx="675.3" cy="638.0" r="2.75"/><circle cx="675.3" cy="646.5" r="2.75"/><circle cx="675.3" cy="659.2" r="2.75"/><circle cx="670.7" cy="653.4" r="2.75"/><circle cx="670.2" cy="662.6" r="2.75"/><circle cx="669.6" cy="673.0" r="2.75"/><circle cx="669.6" cy="679.9" r="2.75"/><circle cx="675.3" cy="690.3" r="2.75"/><circle cx="669.6" cy="691.4" r="2.75"/><circle cx="669.6" cy="700.7" r="2.75"/><circle cx="675.3" cy="707.6" r="2.75"/><circle cx="669.6" cy="716.8" r="2.75"/><circle cx="675.3" cy="729.5" r="2.75"/><circle cx="669.6" cy="737.5" r="2.75"/><circle cx="675.3" cy="739.8" r="2.75"/><circle cx="669.6" cy="751.4" r="2.75"/><circle cx="675.3" cy="751.4" r="2.75"/><circle cx="669.6" cy="762.9" r="2.75"/><circle cx="675.3" cy="769.8" r="2.75"/><circle cx="726.0" cy="629.2" r="2.75"/><circle cx="726.0" cy="640.7" r="2.75"/><circle cx="726.0" cy="652.3" r="2.75"/><circle cx="726.0" cy="672.5" r="2.75"/><circle cx="709.4" cy="643.0" r="2.75"/><circle cx="709.4" cy="666.1" r="2.75"/><circle cx="713.3" cy="661.5" r="2.75"/><circle cx="709.4" cy="676.5" r="2.75"/><circle cx="713.3" cy="685.7" r="2.75"/><circle cx="713.3" cy="701.1" r="2.75"/><circle cx="713.3" cy="719.1" r="2.75"/><circle cx="709.9" cy="734.1" r="2.75"/><circle cx="714.0" cy="732.9" r="2.75"/><circle cx="705.3" cy="750.2" r="2.75"/><circle cx="686.8" cy="771.0" r="2.75"/><circle cx="686.8" cy="779.0" r="2.75"/><circle cx="686.8" cy="791.7" r="2.75"/><circle cx="694.9" cy="795.2" r="2.75"/><circle cx="693.8" cy="804.4" r="2.75"/><circle cx="679.9" cy="802.1" r="2.75"/><circle cx="755.5" cy="791.7" r="2.75"/><circle cx="741.0" cy="774.4" r="2.75"/><circle cx="632.7" cy="828.6" r="2.75"/><circle cx="645.4" cy="811.3" r="2.75"/><circle cx="645.4" cy="825.1" r="2.75"/><circle cx="645.4" cy="836.6" r="2.75"/><circle cx="708.3" cy="1005.1" r="2.75"/><circle cx="718.4" cy="1009.3" r="2.75"/><circle cx="735.2" cy="1016.6" r="2.75"/><circle cx="805.4" cy="904.5" r="2.75"/><circle cx="824.5" cy="899.4" r="2.75"/><circle cx="811.1" cy="916.0" r="2.75"/><circle cx="852.6" cy="905.6" r="2.75"/><circle cx="838.1" cy="927.5" r="2.75"/><circle cx="864.6" cy="954.0" r="2.75"/><circle cx="864.6" cy="958.6" r="2.75"/><circle cx="874.0" cy="957.5" r="2.75"/><circle cx="908.4" cy="966.7" r="2.75"/><circle cx="908.4" cy="971.3" r="2.75"/><circle cx="908.4" cy="977.1" r="2.75"/><circle cx="913.7" cy="977.1" r="2.75"/><circle cx="922.4" cy="977.1" r="2.75"/><circle cx="1437.2" cy="926.1" r="2.75"/><circle cx="1441.2" cy="933.5" r="2.75"/><circle cx="1453.1" cy="935.3" r="2.75"/><circle cx="1454.0" cy="1021.0" r="2.75"/><circle cx="1460.1" cy="878.4" r="2.75"/><circle cx="1460.1" cy="884.9" r="2.75"/><circle cx="1460.1" cy="899.5" r="2.75"/><circle cx="1330.2" cy="1000.4" r="2.75"/><circle cx="1341.2" cy="998.6" r="2.75"/><circle cx="1388.0" cy="975.6" r="2.75"/><circle cx="1397.2" cy="975.3" r="2.75"/><circle cx="1412.4" cy="961.0" r="2.75"/><circle cx="1424.7" cy="951.4" r="2.75"/></g><polyline points="115.8,977.5 118.1,982.1 120.4,991.3 122.7,977.5 125.0,991.3 127.3,978.6 129.6,986.7 131.9,961.3 135.4,982.1 138.1,939.4 141.1,982.1 143.4,972.9 145.7,970.6 148.0,947.5 150.3,952.1 151.9,938.3 153.8,970.6 156.1,963.6 158.4,972.9 160.7,961.3 162.5,979.8 164.9,945.2 167.6,942.9 169.5,937.1 172.7,963.6 175.7,903.7 178.0,933.7 180.3,938.3 182.6,956.7 186.1,949.8 190.2,903.7 193.0,933.7 196.4,952.1 198.7,940.6 202.2,965.9 205.6,926.8 208.0,945.2 210.7,915.2 213.0,947.5 214.9,936.0 217.2,949.8 219.5,896.8 221.8,919.8 223.4,844.9 225.2,887.6 227.5,892.2 229.8,896.8 231.7,954.4 233.8,871.4 236.3,938.3 239.1,977.5 241.4,949.8 243.7,899.1 246.0,956.7 248.3,908.3 250.6,956.7 252.9,915.2 255.7,871.4 258.7,965.9 262.1,938.3 266.3,893.3 269.0,931.4 271.3,942.9 274.1,965.9 277.1,915.2 279.9,906.0 282.9,912.9 286.3,924.5 290.0,929.1 291.5,959.0 295.0,984.4 297.3,949.8 300.7,918.7 303.0,924.5 304.7,933.7 306.5,883.0 308.8,961.3 311.1,938.3 314.1,993.6 316.9,979.8 320.3,952.1 323.1,989.0 325.4,949.8 326.8,959.0 328.9,903.7 331.2,977.5 334.2,993.6 337.6,977.5 341.1,940.6 343.4,961.3 345.7,956.7 349.1,959.0 351.9,979.8 354.9,938.3 357.7,880.7 359.5,938.3 362.3,883.0 366.4,959.0 370.6,984.4 374.5,968.2 378.0,965.9 380.3,959.0 383.0,940.6 384.9,933.7 387.6,863.4 390.6,929.1 392.9,957.9 396.4,956.7 399.8,933.7 403.3,967.1 406.3,909.5 409.1,972.9 411.4,959.0 413.7,984.4 417.1,986.7 419.4,965.9 421.7,931.4 424.0,959.0 426.4,892.2 429.3,952.1 432.1,910.6 434.4,876.1 437.6,844.9 440.2,903.7 442.5,926.8 445.9,933.7 449.4,947.5 451.7,878.4 454.0,938.3 457.5,938.3 460.0,959.0 461.5,931.4 463.8,912.9 467.3,796.3 468.4,846.1 470.7,926.8 473.0,929.1 475.4,970.6 477.7,977.5 481.1,977.5 484.6,947.5 486.9,910.6 489.2,798.6 491.5,936.0 493.1,887.6 494.9,942.9 497.2,836.9 499.6,945.2 503.0,961.3 505.8,970.6 508.8,929.1 511.1,899.1 514.5,942.9 516.8,972.9 519.1,984.4 521.4,989.0 523.8,963.6 526.1,968.2 529.5,938.3 532.5,906.0 535.3,876.1 537.6,919.8 539.9,947.5 542.2,936.0 544.5,938.3 546.8,883.0 549.1,938.3 551.4,933.7 554.9,965.9 557.2,931.4 560.6,938.3 562.9,929.1 565.2,899.1 567.5,979.8 569.8,961.3 572.2,929.1 575.6,924.5 577.9,857.6 581.4,947.5 583.7,970.6 587.1,998.2 590.6,949.8 594.0,1000.5 597.5,956.7 601.0,956.7 603.3,979.8 605.6,998.2 609.0,1000.5 611.3,896.8 614.1,877.2 616.4,1005.1 618.7,977.5 620.0,995.9 622.3,1002.8 625.8,1005.1 628.1,972.9 631.5,899.1 633.8,961.3 636.1,1005.1 638.4,961.3 640.7,929.1 643.0,1000.5 644.7,903.7 646.5,961.3 648.1,942.9 650.0,975.2 651.8,947.5 654.1,1002.8 656.9,979.8 660.3,947.5 663.8,938.3 666.1,901.4 668.4,781.6 670.7,869.1 672.5,896.8 674.2,871.4 677.6,929.1 679.9,896.8 682.7,959.0 686.8,885.3 689.1,942.9 691.4,910.6 693.3,938.3 695.6,906.0 698.4,924.5 700.7,929.1 704.1,887.6 707.1,912.9 709.9,871.4 712.7,862.2 715.0,878.4 718.0,919.8 720.7,843.8 723.0,919.8 725.6,832.3 727.9,862.2 730.6,887.6 732.2,873.8 734.1,959.0 736.4,947.5 738.7,956.7 741.0,866.8 744.5,936.0 746.8,929.1 748.4,903.7 750.2,970.6 752.5,947.5 755.3,864.5 758.3,970.6 760.6,945.2 763.4,975.2 765.7,915.2 768.0,989.0 770.3,949.8 772.1,1005.1 774.4,961.3 776.3,1005.1 777.9,963.6 780.2,1016.6 783.6,977.5 786.4,984.4 789.4,1000.5 790.4,1003.6 793.4,989.7 795.0,1008.2 797.3,975.9 799.6,994.3 803.0,969.0 805.4,978.2 807.7,982.8 811.1,966.7 813.4,980.5 815.7,975.9 818.0,980.5 820.3,971.3 823.8,963.2 826.1,978.2 828.4,969.0 831.9,980.5 835.3,982.8 837.6,982.8 839.9,1001.3 843.4,999.0 845.7,980.5 848.0,994.3 850.3,973.6 853.8,985.1 857.2,996.6 860.7,994.3 864.1,992.0 867.6,996.6 872.2,999.0 875.6,1003.6 879.1,996.6 882.6,1005.9 886.0,1010.5 890.6,1008.2 895.2,1005.9 898.7,1010.5 902.2,1008.2 905.6,1012.8 908.4,1003.6 911.4,1008.2 916.0,1015.1 919.4,1010.5 922.9,1015.1 927.5,1010.5 932.1,1017.4 936.7,1015.1 941.3,1012.8 944.8,1019.7 950.0,1018.9 952.6,1017.1 954.4,1024.2 957.1,1019.8 959.7,1024.2 962.4,1022.4 966.8,1024.2 969.4,1026.8 972.1,1026.0 976.5,1027.7 981.8,1026.0 987.1,1026.8 992.4,1027.7 996.8,1024.2 1000.3,1027.7 1004.8,1026.0 1010.1,1027.7 1017.1,1027.7 1022.4,1028.6 1026.8,1027.7 1031.2,1030.4 1036.5,1028.6 1041.8,1027.7 1048.9,1029.5 1056.0,1027.7 1061.3,1029.5 1066.6,1027.7 1073.6,1029.5 1080.7,1028.6 1090.4,1027.7 1096.6,1029.5 1103.7,1030.4 1116.0,1030.4 1122.2,1028.6 1135.5,1029.8 1144.3,1028.6 1148.7,1026.3 1154.9,1027.7 1162.0,1028.6 1172.6,1027.7 1183.2,1027.7 1191.1,1026.8 1197.3,1027.7 1204.3,1030.4 1210.0,1026.8 1213.8,1023.3 1218.3,1027.0 1223.8,1027.9 1229.3,1026.1 1234.9,1027.0 1240.4,1022.4 1244.0,1026.1 1246.8,1021.5 1249.5,1026.1 1253.2,1021.5 1258.7,1025.2 1264.2,1023.3 1267.9,1027.0 1273.4,1026.1 1278.0,1022.4 1282.5,1026.1 1288.0,1027.0 1295.4,1027.9 1302.7,1027.0 1308.2,1022.4 1313.7,1026.1 1320.1,1021.5 1324.7,1020.6 1330.2,1021.5 1335.7,1023.3 1340.3,1015.1 1342.2,1022.4 1346.7,1021.5 1352.2,1020.6 1357.7,1022.4 1363.2,1016.9 1367.8,1015.1 1372.4,1016.9 1377.0,1018.8 1379.8,1013.2 1383.4,1011.4 1387.1,1007.7 1390.8,1007.7 1394.4,1005.9 1398.1,1002.2 1399.9,1009.6 1401.8,1004.1 1405.4,1007.7 1409.1,1009.6 1411.9,998.6 1415.5,1000.4 1418.3,994.9 1421.9,996.7 1427.4,998.6 1429.3,1004.1 1432.9,998.6 1434.8,1004.1 1437.5,985.7 1440.3,991.2 1443.0,980.2 1445.8,996.7 1447.6,976.6 1451.3,982.1 1455.0,994.9 1457.7,989.4 1460.5,945.4 1464.1,941.7" fill="none" stroke="#ff7f0e" stroke-width="2.08" stroke-linejoin="round"/></g><rect x="115.5" y="575.6" width="1347.0" height="478.85" fill="none" stroke="#000" stroke-width="1.11"/><path d="M110.64 1035.5H115.5M110.64 953.5H115.5M110.64 872.5H115.5M110.64 790.5H115.5M110.64 709.5H115.5M110.64 627.5H115.5M115.5 1054.45V1059.31M284.5 1054.45V1059.31M452.5 1054.45V1059.31M620.5 1054.45V1059.31M789.5 1054.45V1059.31M957.5 1054.45V1059.31M1125.5 1054.45V1059.31M1294.5 1054.45V1059.31" stroke="#000" stroke-width="1.11" fill="none"/><text x="50.53" y="1042.50" font-size="23.0" textLength="54.92" lengthAdjust="spacingAndGlyphs">0.00</text><text x="51.42" y="960.50" font-size="23.0" textLength="53.99" lengthAdjust="spacingAndGlyphs">0.02</text><text x="50.51" y="879.50" font-size="23.0" textLength="53.94" lengthAdjust="spacingAndGlyphs">0.04</text><text x="50.67" y="797.50" font-size="23.0" textLength="54.64" lengthAdjust="spacingAndGlyphs">0.06</text><text x="50.86" y="716.50" font-size="23.0" textLength="54.30" lengthAdjust="spacingAndGlyphs">0.08</text><text x="50.53" y="634.50" font-size="23.0" textLength="54.92" lengthAdjust="spacingAndGlyphs">0.10</text><text x="634.90" y="29.80" font-size="28.7" textLength="299.41" lengthAdjust="spacingAndGlyphs">10.0 MHz N0000039</text><text x="116.51" y="30.00" font-size="28" textLength="40.17" lengthAdjust="spacingAndGlyphs">(a)</text><text x="116.34" y="566.90" font-size="28" textLength="41.35" lengthAdjust="spacingAndGlyphs">(b)</text><g transform="translate(36.84,389.85) rotate(-90)"><text x="-1.79" y="0.00" font-size="23.0" textLength="225.84" lengthAdjust="spacingAndGlyphs">Doppler Shift [Hz]</text></g><g transform="translate(39.9,918.8) rotate(-90)"><text x="-1.78" y="0.00" font-size="23.0" textLength="208.98" lengthAdjust="spacingAndGlyphs">Peak Voltage [V]</text></g><g transform="translate(111.70,1079.0) rotate(-30)"><text x="-108.60" y="0.00" font-size="23.5" textLength="109.74" lengthAdjust="spacingAndGlyphs">04-25 00</text></g><g transform="translate(280.70,1079.0) rotate(-30)"><text x="-107.88" y="0.00" font-size="23.5" textLength="108.88" lengthAdjust="spacingAndGlyphs">04-25 03</text></g><g transform="translate(448.70,1079.0) rotate(-30)"><text x="-108.47" y="0.00" font-size="23.5" textLength="109.47" lengthAdjust="spacingAndGlyphs">04-25 06</text></g><g transform="translate(616.70,1079.0) rotate(-30)"><text x="-108.24" y="0.00" font-size="23.5" textLength="109.26" lengthAdjust="spacingAndGlyphs">04-25 09</text></g><g transform="translate(785.70,1079.0) rotate(-30)"><text x="-107.72" y="0.00" font-size="23.5" textLength="108.83" lengthAdjust="spacingAndGlyphs">04-25 12</text></g><g transform="translate(953.70,1079.0) rotate(-30)"><text x="-108.10" y="0.00" font-size="23.5" textLength="108.87" lengthAdjust="spacingAndGlyphs">04-25 15</text></g><g transform="translate(1121.70,1079.0) rotate(-30)"><text x="-108.28" y="0.00" font-size="23.5" textLength="109.13" lengthAdjust="spacingAndGlyphs">04-25 18</text></g><g transform="translate(1290.70,1079.0) rotate(-30)"><text x="-108.12" y="0.00" font-size="23.5" textLength="108.89" lengthAdjust="spacingAndGlyphs">04-25 21</text></g><text x="764.37" y="1157.90" font-size="23.5" textLength="48.88" lengthAdjust="spacingAndGlyphs">UTC</text><rect x="1047.4" y="48.45" width="405.90" height="79.85" rx="3" ry="3" fill="#fff" fill-opacity="0.8" stroke="#cccccc" stroke-width="1.11"/><circle cx="1073.5" cy="63.30" r="2.8" fill="#1f77b4"/><path d="M1052.8 101.80H1092" stroke="#ff7f0e" stroke-width="2.08" fill="none"/><text x="1106.04" y="68.90" font-size="18.6" textLength="98.12" lengthAdjust="spacingAndGlyphs">Raw Data</text><text x="1106.00" y="95.80" font-size="18.6" textLength="269.36" lengthAdjust="spacingAndGlyphs">Butterworth Filtered Data</text><text x="1106.38" y="116.70" font-size="18.6" textLength="338.73" lengthAdjust="spacingAndGlyphs">(N=6, Tc=3.3333 min, Type: low)</text><rect x="1047.4" y="585.35" width="405.90" height="79.85" rx="3" ry="3" fill="#fff" fill-opacity="0.8" stroke="#cccccc" stroke-width="1.11"/><circle cx="1073.5" cy="600.20" r="2.8" fill="#1f77b4"/><path d="M1052.8 638.70H1092" stroke="#ff7f0e" stroke-width="2.08" fill="none"/><text x="1106.04" y="605.80" font-size="18.6" textLength="98.12" lengthAdjust="spacingAndGlyphs">Raw Data</text><text x="1106.00" y="632.70" font-size="18.6" textLength="269.36" lengthAdjust="spacingAndGlyphs">Butterworth Filtered Data</text><text x="1106.38" y="653.60" font-size="18.6" textLength="338.73" lengthAdjust="spacingAndGlyphs">(N=6, Tc=3.3333 min, Type: low)</text></svg></body></html>
